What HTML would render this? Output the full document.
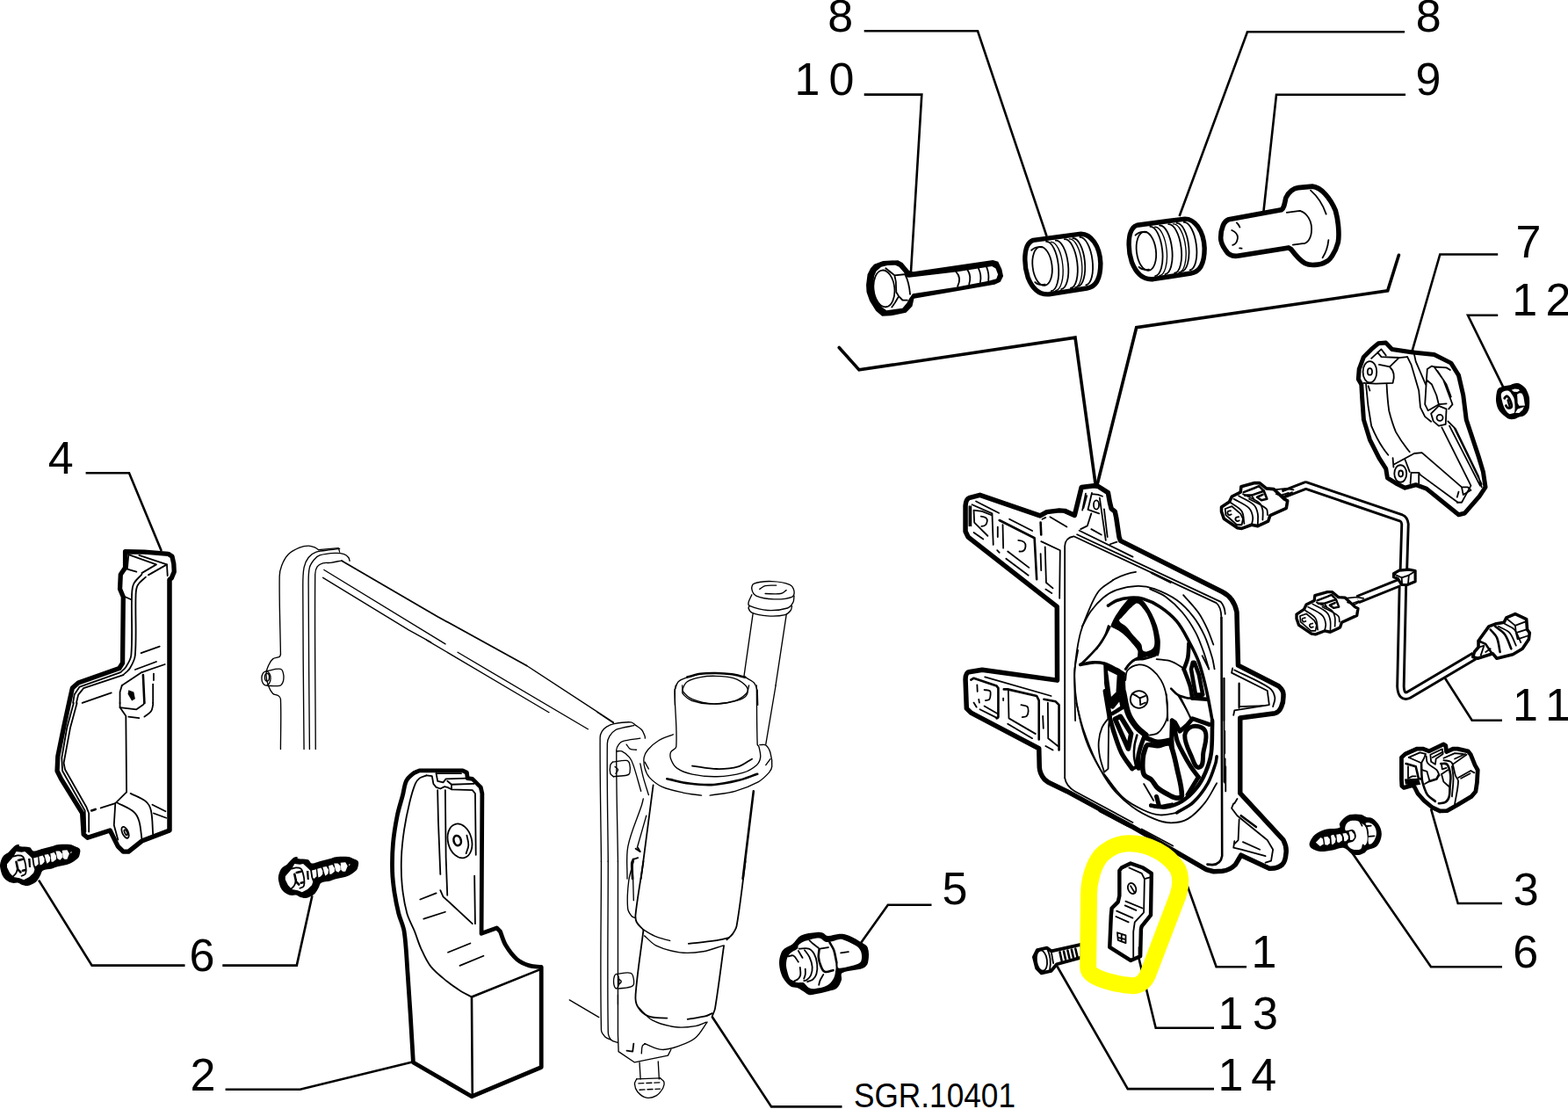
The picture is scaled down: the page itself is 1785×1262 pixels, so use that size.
<!DOCTYPE html>
<html><head><meta charset="utf-8"><title>Parts diagram</title>
<style>
html,body{margin:0;padding:0;background:#fff;}
body{width:1785px;height:1262px;overflow:hidden;}
svg{display:block;}
.k{fill:none;stroke:#000;stroke-linecap:round;stroke-linejoin:round;}
.w{fill:#fff;}
.lbl{font-family:"Liberation Sans",sans-serif;fill:#000;stroke:none;}
</style></head><body>
<svg width="1785" height="1262" viewBox="0 0 1785 1262">
<rect x="0" y="0" width="1785" height="1262" fill="#fff"/>
<g transform="translate(980,280) scale(0.100837)">
<path fill="#000" d="M60,440 L75,320 L110,250 L150,205 L250,168 L420,160 L470,188 L545,278 L590,290 L1490,158 L1550,175 L1590,260 L1607,340 L1575,405 L1510,435 L600,592 L580,680 L510,752 L340,787 L240,792 L170,732 L100,620 L65,520 Z"/>
<path fill="#fff" d="M140,430 L150,340 L175,282 L230,235 L300,218 L390,215 L432,236 L482,292 L520,352 L545,355 L1090,290 L1480,228 L1522,252 L1548,320 L1530,370 L1440,395 L1090,460 L585,538 L548,590 L520,642 L470,702 L290,726 L240,690 L190,640 L152,545 Z"/>
<g class="k" stroke-width="17.851">
<ellipse cx="262" cy="480" rx="118" ry="208" transform="rotate(-6 262 480)"/>
<path d="M280,250 L380,330 L490,320 M380,330 L395,400 L400,520 L430,570 L470,610 L525,612 M420,580 L385,640 L350,690 M500,322 Q545,410 556,545"/>
<path d="M1075,292 Q1140,360 1092,456 M1205,270 Q1250,340 1222,430 M1328,252 Q1365,330 1348,408 M1420,240 Q1450,310 1440,392"/>
</g>
</g>
<g transform="translate(1150,235) scale(0.134454)">
<defs><g id="slv">
<path class="w" stroke="#000" stroke-width="40.163" stroke-linejoin="round" d="M125,450 C125,360 150,300 195,285 L460,250 L600,232 C680,232 760,330 765,480 C765,600 730,680 650,692 L470,720 L330,742 C250,750 190,700 150,600 C130,540 125,500 125,450 Z"/>
<g class="k" stroke-width="13.388">
<ellipse cx="272" cy="505" rx="82" ry="165" transform="rotate(-7 272 505)"/>
<path d="M180,370 Q215,335 270,345 M210,640 Q240,670 295,660"/>
<path d="M305,297 A82,210.1 -5.9 0 1 348,715 M385,287 A82,207.8 -6.5 0 1 432,700 M460,277 A82,208.1 -7.2 0 1 512,690 M530,268 A82,205.1 -5.9 0 1 572,676 M590,260 A82,204.2 -7.3 0 1 642,665"/>
<path  stroke-width="10.041" d="M345,300 A82,207.0 -5.5 0 1 385,712 M500,275 A82,206.4 -6.7 0 1 548,685"/>
</g></g></defs>
<use href="#slv"/>
<use href="#slv" transform="translate(880,-127)"/>
</g>
<g transform="translate(1370,195) scale(0.100837)">
<path class="w" stroke="#000" stroke-width="55.535" stroke-linejoin="round" d="M195,750 C195,650 230,560 285,543 L880,435 C905,420 915,380 930,300 C960,230 1020,190 1070,185 L1230,170 C1330,180 1430,300 1490,440 C1525,560 1535,720 1520,800 C1490,920 1420,1010 1380,1022 C1320,1060 1200,1065 1150,1040 C1080,1000 1020,920 990,880 L960,862 L400,952 C330,965 280,940 250,890 C215,840 195,800 195,750 Z"/>
<g class="k" stroke-width="17.851">
<path d="M940,465 L1090,445 C1170,470 1225,560 1220,660 C1220,760 1170,815 1120,815 L1010,830"/>
<path d="M1210,215 Q1330,320 1385,482 M1412,775 Q1400,890 1345,975"/>
<path d="M375,580 Q400,600 410,630 M320,665 Q395,700 385,760 Q375,820 330,832 M408,866 L432,870"/>
</g>
</g>
<g transform="translate(1535,380) scale(0.174338)">
<path class="w" stroke="#000" stroke-width="28.680" stroke-linejoin="round" d="M195,62 L245,58 L285,100 L420,120 L560,135 L670,190 L720,270 L750,400 L770,560 L800,650 L850,800 L880,900 L895,1000 L855,1060 L760,1170 L720,1180 L510,1010 L440,985 L370,1005 L310,975 L255,940 L245,880 L200,810 L140,690 L100,560 L90,420 L85,330 L65,295 L70,230 L100,150 L150,100 Z"/>
<g class="k" stroke-width="10.325">
<ellipse cx="140" cy="248" rx="45" ry="70"/>
<ellipse cx="140" cy="246" rx="15" ry="22"/>
<path d="M150,160 L215,100 L245,140 M215,150 L330,155 L385,150 M200,200 L270,215 L330,155 M270,215 Q312,255 290,320 L180,325 M100,320 L180,325 M190,120 L215,150"/>
<path d="M115,330 Q125,470 150,600 Q200,720 260,790 M250,330 Q255,430 265,500 Q285,580 310,640 Q350,710 400,770 M130,340 L140,370"/>
<path d="M385,150 L410,200 L460,370 L470,480 L500,540 L540,572 M425,110 L440,180 L505,330"/>
<path d="M515,230 L545,210 L560,215 L640,220 L665,235 M515,230 L510,300 L500,460 L520,500 L590,460 L575,400 L545,330 L510,300 M560,215 L620,300 L665,420 L680,460 L655,490 M590,460 L640,455 M580,240 L640,330 L670,410"/>
<path d="M540,520 L590,470 L640,490 L635,590 L590,600 L555,570 Z"/>
<circle cx="597" cy="547" r="20"/>
<path d="M650,570 L700,620 L850,930 L870,1000 M660,600 L860,990 M610,610 L800,990 L740,1100 L710,1100 M690,610 L870,980"/>
<ellipse cx="340" cy="912" rx="40" ry="56"/>
<ellipse cx="342" cy="912" rx="14" ry="20"/>
<path d="M300,850 L430,780 L480,775 L740,1000 L780,1000 L800,1020 M410,905 L460,905 L470,920 L715,1100 M410,905 L405,975 M460,905 L460,975 M370,820 L400,900 M290,810 L295,870 M740,1000 L750,1050 L800,1020 M720,1030 L710,1065"/>
</g>
</g>
<g transform="translate(1680,420) scale(0.055463)">
<path fill="#000" d="M415.0,600.0 C416.9,559.7 421.2,519.3 430.0,480.0 C436.3,452.2 441.3,421.5 460.0,400.0 C477.1,380.3 506.0,375.2 530.0,365.0 C549.4,356.8 569.4,349.3 590.0,345.0 C626.2,337.5 664.1,339.0 700.0,330.0 C724.6,323.8 745.5,306.5 770.0,300.0 C796.0,293.1 823.2,288.2 850.0,290.0 C874.2,291.6 899.1,297.7 920.0,310.0 C956.8,331.6 992.7,357.2 1020.0,390.0 C1043.9,418.6 1056.2,455.4 1070.0,490.0 C1082.9,522.3 1096.3,555.4 1100.0,590.0 C1106.4,649.7 1105.5,710.3 1100.0,770.0 C1097.1,801.0 1088.6,832.0 1075.0,860.0 C1061.5,887.9 1042.4,913.6 1020.0,935.0 C1003.3,951.0 981.7,962.0 960.0,970.0 C931.1,980.6 899.1,980.0 870.0,990.0 C845.3,998.5 825.7,1020.3 800.0,1025.0 C760.7,1032.2 718.9,1034.2 680.0,1025.0 C653.0,1018.6 632.0,996.9 610.0,980.0 C581.9,958.4 554.2,935.9 530.0,910.0 C504.0,882.3 477.0,854.0 460.0,820.0 C439.7,779.4 429.1,734.4 420.0,690.0 C414.0,660.6 413.6,630.0 415.0,600.0 Z"/>
<path fill="#fff" d="M520.0,520.0 C524.1,494.3 546.1,470.4 570.0,460.0 C603.7,445.2 645.3,437.7 680.0,450.0 C709.0,460.2 723.3,494.2 740.0,520.0 C760.2,551.3 784.5,583.1 790.0,620.0 C803.2,709.0 812.9,801.8 795.0,890.0 C790.4,912.7 752.3,908.6 730.0,915.0 C717.1,918.7 702.5,924.9 690.0,920.0 C670.1,912.3 653.2,896.8 640.0,880.0 C616.0,849.4 595.5,815.6 580.0,780.0 C561.9,738.4 550.2,694.2 540.0,650.0 C530.1,607.3 513.2,563.3 520.0,520.0 Z"/>
<path fill="#fff" d="M850.0,520.0 L900.0,490.0 L950.0,500.0 L980.0,570.0 L1010.0,750.0 L890.0,755.0 L860.0,700.0 Z"/>
<path fill="#fff" d="M735.0,430.0 L800.0,405.0 L880.0,415.0 L900.0,440.0 L850.0,470.0 L780.0,465.0 Z"/>
<path fill="#fff" d="M810.0,895.0 L860.0,820.0 L990.0,775.0 L960.0,840.0 L890.0,900.0 Z"/>
<path fill="none" stroke="#000" stroke-width="50.484" stroke-linecap="round" stroke-linejoin="round" d="M590.0,600.0 C603.3,585.0 610.1,557.2 630.0,555.0 C650.2,552.8 668.1,573.5 680.0,590.0 C699.2,616.6 710.4,648.6 720.0,680.0 C728.9,709.1 740.0,740.0 735.0,770.0 C732.5,785.2 715.0,796.5 700.0,800.0 C683.5,803.9 664.4,799.0 650.0,790.0 C635.9,781.2 630.0,763.3 620.0,750.0"/>
<path fill="none" stroke="#000" stroke-width="43.272" stroke-linecap="round" d="M660,640 L700,780"/>
</g>
<g transform="translate(1060,520) scale(0.253614)">
<path class="w" stroke="#000" stroke-width="21.686" stroke-linejoin="round" d="M154,334 L154,219 Q156,190 170,184 L219,171 L489,264 L519,247 L575,240 L600,242 L644,262 L675,136 L731,129 L750,132 L794,160 L802,204 L809,232 L825,245 L831,273 L844,360 L850,376 L1307,605 Q1360,632 1372,696 L1378,935 L1560,1028 Q1584,1050 1581,1070 Q1582,1100 1572,1121 Q1562,1146 1543,1150 L1387,1171 L1387,1509 L1581,1719 Q1597,1750 1593,1778 Q1590,1815 1576,1829 Q1555,1848 1518,1846 L1391,1787 L1366,1829 Q1340,1855 1307,1858 L1268,1860 L1236,1852 L897,1656 L609,1500 L526,1460 L509,1447 Q487,1420 486,1392 L484,1308 L179,1148 L159,1128 L154,998 Q155,968 169,965 L229,955 L566,1002 L565,672 L166,359 Z"/>
</g>
<g transform="translate(1080,540) scale(0.126807)">
<g class="k" stroke-width="14.195">
<path d="M245,240 L450,345 M210,270 L390,350 L400,630 M185,285 L185,460 M200,285 L200,460"/>
<path d="M225,320 L230,430 L350,550 M225,320 L300,330 L385,365 M225,520 L310,580"/>
<path d="M290,375 Q350,380 345,420 Q340,465 295,465"/>
<path d="M440,470 L440,560 M485,450 L490,660 M545,400 L750,505"/>
<path d="M625,590 Q695,595 690,645 Q685,695 635,690"/>
<path d="M530,690 L720,835 M515,755 L715,905 M435,680 L455,700"/>
<path d="M830,600 L1000,680 L995,1110 M865,650 L875,970 L935,1020 M870,1030 L925,1065 M825,710 L830,860"/>
<path d="M910,380 L1060,470 M840,400 L870,385"/>
<path d="M1230,170 L1200,320 M1240,190 L1210,300 M1285,165 L1250,315 L1350,350 M1285,175 L1340,180 L1380,195 M1355,210 L1410,590 M1395,310 L1425,560"/>
<ellipse cx="1325" cy="272" rx="24" ry="40"/>
<path d="M1280,350 L1245,460 L1185,490 M1280,490 L1370,540 M1450,625 L1510,605"/>
</g>
<path class="k" stroke-width="14.195" d="M1476,946 Q1580,890 1680,875"/>
<g class="k" stroke-width="20.504">
<path d="M455,410 L770,570 L790,940 M825,430 L830,540"/>
</g>
</g>
<g transform="translate(1060,520) scale(0.253614)">
<g class="k" stroke-width="7.097">
<path d="M600,1440 L600,400 Q602,362 640,356 L1280,655 Q1302,672 1303,722"/>
<path d="M655,348 L1300,650 Q1318,670 1320,705 M665,330 L905,448"/>
<path d="M600,1440 Q606,1478 645,1500 L905,1640 M755,1590 L880,1655 M945,1670 L1085,1745"/>
<path d="M1318,1230 L1318,1330 M1322,1390 L1322,1500"/>
</g>
<g class="k" stroke-width="10.252">
<path d="M1303,722 L1306,1790 Q1300,1828 1262,1830 L1240,1828"/>
<path d="M990,520 L1075,562"/>
</g>
</g>
<g transform="translate(1200,660) scale(0.126807)">
<path class="k" stroke-width="14.195" d="M190.0,1262.0 C188.3,1174.7 185.9,1087.3 185.0,1000.0 C184.3,933.3 179.0,866.4 185.0,800.0 C194.1,699.3 207.3,598.5 230.0,500.0 C245.8,431.2 272.4,365.0 300.0,300.0 C329.2,231.4 354.7,159.2 400.0,100.0 C433.3,56.6 486.7,33.3 530.0,0.0" />
<path class="k" stroke-width="14.195" d="M250.0,420.0 C276.7,373.3 298.3,323.4 330.0,280.0 C362.0,236.2 398.2,194.6 440.0,160.0 C475.7,130.5 516.1,104.9 560.0,90.0 C621.0,69.3 685.6,56.9 750.0,55.0 C800.7,53.5 852.3,63.0 900.0,80.0 C970.2,105.1 1039.3,136.7 1100.0,180.0 C1157.5,221.1 1206.5,274.3 1250.0,330.0 C1290.5,381.8 1322.6,440.3 1350.0,500.0 C1379.5,564.2 1399.7,632.3 1420.0,700.0 C1429.8,732.6 1433.3,766.7 1440.0,800.0" />
<path class="k" stroke-width="14.195" d="M860.0,80.0 C906.7,103.3 957.7,119.4 1000.0,150.0 C1055.4,190.1 1105.9,237.7 1150.0,290.0 C1196.5,345.1 1235.6,406.6 1270.0,470.0 C1299.2,523.9 1319.1,582.4 1340.0,640.0 C1359.1,692.5 1373.3,746.7 1390.0,800.0" />
<path class="k" stroke-width="28.390" d="M485.0,230.0 C510.0,215.0 532.6,194.9 560.0,185.0 C598.5,171.2 639.2,162.5 680.0,160.0 C720.1,157.5 761.5,158.6 800.0,170.0 C852.9,185.7 904.1,209.4 950.0,240.0 C1005.1,276.7 1057.5,319.3 1100.0,370.0 C1145.2,423.9 1176.6,488.1 1210.0,550.0 C1243.3,611.6 1276.5,674.0 1300.0,740.0 C1330.1,824.6 1349.9,912.5 1370.0,1000.0 C1389.9,1086.6 1403.3,1174.7 1420.0,1262.0" />
<path class="k" stroke-width="14.195" d="M1160.0,135.0 C1206.7,190.0 1258.7,240.9 1300.0,300.0 C1332.4,346.5 1356.1,398.6 1380.0,450.0 C1399.6,492.1 1413.3,536.7 1430.0,580.0" />
<path class="k" stroke-width="14.195" d="M1330.0,680.0 L1390.0,800.0" />
<path class="k" stroke-width="20.504" d="M235.0,760.0 C256.7,740.0 279.5,721.2 300.0,700.0 C334.5,664.4 369.7,629.2 400.0,590.0 C426.6,555.6 448.0,517.5 470.0,480.0 C481.3,460.7 490.0,440.0 500.0,420.0" />
<path class="k" stroke-width="28.390" d="M235.0,760.0 C273.3,753.3 311.1,741.8 350.0,740.0 C383.5,738.4 417.8,740.8 450.0,750.0 C488.7,761.1 524.2,781.6 560.0,800.0 C582.6,811.6 603.3,826.7 625.0,840.0" />
<path class="k" stroke-width="14.195" d="M640.0,900.0 C646.7,870.0 640.0,833.3 660.0,810.0 C684.3,781.7 722.9,763.7 760.0,760.0 C794.6,756.5 831.5,770.0 860.0,790.0 C900.6,818.4 935.2,857.1 960.0,900.0 C986.3,945.7 1001.4,998.0 1010.0,1050.0 C1021.6,1119.8 1016.7,1191.3 1020.0,1262.0" />
<path class="k" stroke-width="20.504" d="M640.0,800.0 C660.0,776.7 676.9,750.2 700.0,730.0 C717.4,714.8 740.0,706.7 760.0,695.0" />
<path class="k" stroke-width="14.195" d="M920.0,710.0 C963.3,716.7 1008.4,716.1 1050.0,730.0 C1089.6,743.2 1123.3,770.0 1160.0,790.0" />
<circle class="k" stroke-width="14.195" cx="762" cy="1072" r="78"/>
<path class="k" stroke-width="14.195" d="M740.0,1040.0 L770.0,1060.0 L775.0,1120.0" />
<path class="k" stroke-width="14.195" d="M770.0,1060.0 L820.0,1040.0" />
<path class="k" stroke-width="14.195" d="M700.0,1020.0 L740.0,1040.0" />
<path class="k" stroke-width="14.195" d="M775.0,1120.0 L820.0,1100.0" />
<path class="k" stroke-width="36.276" d="M1210.0,570.0 C1206.7,613.3 1208.3,657.3 1200.0,700.0 C1193.2,734.7 1176.7,766.7 1165.0,800.0" />
<path class="k" stroke-width="36.276" d="M1165.0,800.0 C1183.3,850.0 1205.2,898.8 1220.0,950.0 C1230.3,985.8 1233.3,1023.3 1240.0,1060.0" />
<path class="k" stroke-width="36.276" d="M1240.0,1060.0 L1370.0,1070.0" />
<path class="k" stroke-width="36.276" d="M1245.0,740.0 L1230.0,800.0 L1270.0,1030.0 L1335.0,1030.0 L1300.0,850.0 L1260.0,740.0 Z" />
<path class="k" stroke-width="20.504" d="M1050.0,975.0 C1070.0,993.3 1086.4,1016.6 1110.0,1030.0 C1137.5,1045.6 1169.2,1052.9 1200.0,1060.0 C1213.0,1063.0 1226.7,1060.0 1240.0,1060.0" />
<path class="k" stroke-width="14.195" d="M1110.0,1030.0 C1133.3,1070.0 1157.4,1109.6 1180.0,1150.0 C1200.7,1186.9 1220.0,1224.7 1240.0,1262.0" />
<path class="k" stroke-width="14.195" d="M1525.0,880.0 L1525.0,1262.0" />
<path class="k" stroke-width="14.195" d="M1660.0,930.0 L1660.0,1150.0" />
</g>
<g transform="translate(1220,670) scale(0.095111)">
<path fill="#000" d="M690.0,115.0 C661.2,133.5 642.0,163.8 620.0,190.0 C598.6,215.5 578.9,242.5 560.0,270.0 C542.2,295.9 524.7,322.2 510.0,350.0 C494.6,379.0 478.6,408.3 470.0,440.0 C468.0,447.2 473.8,455.9 480.0,460.0 C504.8,476.5 535.2,483.5 560.0,500.0 C595.5,523.7 628.9,550.7 660.0,580.0 C685.8,604.3 707.7,632.5 730.0,660.0 C751.0,685.9 777.3,709.2 790.0,740.0 C801.5,767.9 775.1,813.0 800.0,830.0 C827.8,849.0 866.7,820.0 900.0,815.0 C933.3,810.0 966.5,803.6 1000.0,800.0 C1013.3,798.6 1035.3,812.5 1040.0,800.0 C1058.9,749.7 1059.0,693.7 1060.0,640.0 C1060.6,606.3 1051.6,573.1 1045.0,540.0 C1038.3,506.3 1031.5,472.4 1020.0,440.0 C1003.0,392.1 982.7,345.4 960.0,300.0 C942.6,265.2 922.0,232.0 900.0,200.0 C885.3,178.5 871.2,155.1 850.0,140.0 C823.3,120.9 792.4,105.1 760.0,100.0 C736.4,96.3 710.1,102.1 690.0,115.0 Z"/>
<path fill="#fff" d="M770.0,175.0 C743.1,189.8 722.2,213.7 700.0,235.0 C682.1,252.1 666.7,271.7 650.0,290.0 C633.3,308.3 616.0,326.0 600.0,345.0 C589.3,357.7 562.3,370.2 570.0,385.0 C588.1,419.6 632.8,432.0 660.0,460.0 C689.7,490.6 712.4,527.5 740.0,560.0 C769.0,594.2 805.6,622.4 830.0,660.0 C846.4,685.2 835.2,728.1 860.0,745.0 C882.2,760.1 915.4,745.8 940.0,735.0 C959.4,726.5 977.6,709.9 985.0,690.0 C995.4,661.8 993.1,629.9 990.0,600.0 C984.7,549.3 974.7,498.8 960.0,450.0 C944.5,398.4 924.1,348.2 900.0,300.0 C887.2,274.4 868.4,252.0 850.0,230.0 C834.9,211.9 819.4,193.4 800.0,180.0 C791.6,174.3 778.9,170.1 770.0,175.0 Z"/>
<path class="k" stroke-width="27.336" d="M1000.0,800.0 C953.3,813.3 907.5,830.1 860.0,840.0 C827.2,846.8 791.2,837.9 760.0,850.0 C728.9,862.1 703.6,886.4 680.0,910.0 C666.3,923.7 660.0,943.3 650.0,960.0" />
<path class="k" stroke-width="18.925" d="M440.0,440.0 C420.0,493.3 405.5,549.1 380.0,600.0 C358.5,643.0 326.7,680.0 300.0,720.0" />
</g>
<g transform="translate(1240,740) scale(0.079239)">
<path fill="#000" d="M200.0,195.0 L330.0,240.0 L460.0,320.0 L515.0,322.0 L520.0,500.0 L530.0,700.0 L500.0,660.0 L440.0,650.0 L330.0,800.0 L290.0,860.0 L250.0,700.0 L215.0,480.0 L205.0,210.0 Z"/>
<path fill="#fff" d="M265.0,290.0 L400.0,355.0 L385.0,600.0 L315.0,670.0 Z"/>
</g>
<g transform="translate(1200,800) scale(0.126807)">
<path class="k" stroke-width="14.195" d="M200.0,0.0 C220.0,76.7 234.5,155.0 260.0,230.0 C294.6,332.0 332.6,433.3 380.0,530.0 C419.5,610.6 463.9,689.9 520.0,760.0 C571.6,824.4 633.6,881.0 700.0,930.0 C761.3,975.1 829.7,1010.9 900.0,1040.0 C947.4,1059.7 998.7,1075.0 1050.0,1075.0 C1101.3,1075.0 1155.7,1065.9 1200.0,1040.0 C1259.1,1005.5 1306.9,953.1 1350.0,900.0 C1394.3,845.4 1423.3,780.0 1460.0,720.0" />
<path class="k" stroke-width="14.195" d="M450.0,640.0 C506.7,710.0 553.5,789.2 620.0,850.0 C671.9,897.4 736.4,930.1 800.0,960.0 C847.2,982.2 898.0,1000.7 950.0,1005.0 C1000.3,1009.2 1050.0,991.7 1100.0,985.0" />
<path class="k" stroke-width="28.390" d="M1100.0,985.0 C1150.0,953.3 1207.0,930.7 1250.0,890.0 C1301.8,841.0 1344.6,781.9 1380.0,720.0 C1411.9,664.1 1429.6,601.1 1450.0,540.0 C1456.4,520.8 1456.7,500.0 1460.0,480.0" />
<path class="k" stroke-width="36.276" d="M870.0,920.0 C913.3,925.0 956.8,941.2 1000.0,935.0 C1052.7,927.5 1104.8,908.2 1150.0,880.0 C1200.0,848.7 1242.9,805.9 1280.0,760.0 C1313.8,718.2 1339.2,669.6 1360.0,620.0 C1382.8,565.5 1401.6,508.5 1410.0,450.0 C1421.8,367.4 1417.1,283.4 1420.0,200.0 C1420.5,186.0 1420.0,172.0 1420.0,158.0" />
<path class="k" stroke-width="14.195" d="M500.0,120.0 C476.7,153.3 446.2,182.7 430.0,220.0 C412.3,260.8 403.4,305.7 400.0,350.0 C396.7,393.3 402.1,437.3 410.0,480.0 C418.8,527.7 436.7,573.3 450.0,620.0" />
<path class="k" stroke-width="14.195" d="M450.0,620.0 L485.0,590.0 L490.0,200.0 L500.0,120.0" />
<path class="k" stroke-width="14.195" d="M1535.0,500.0 L1535.0,720.0" />
</g>
<g transform="translate(1240,790) scale(0.110951)">
<path fill="none" stroke="#000" stroke-width="49.572" stroke-linecap="round" stroke-linejoin="round" d="M165.0,-30.0 L190.0,120.0 L210.0,240.0"/>
<path fill="none" stroke="#000" stroke-width="40.559" stroke-linecap="round" stroke-linejoin="round" d="M235.0,200.0 L340.0,135.0"/>
<path fill="none" stroke="#000" stroke-width="40.559" stroke-linecap="round" stroke-linejoin="round" d="M240.0,130.0 L320.0,30.0 L340.0,135.0"/>
<path fill="none" stroke="#000" stroke-width="61.288" stroke-linecap="round" stroke-linejoin="round" d="M350.0,-20.0 C366.7,53.3 373.8,129.5 400.0,200.0 C417.7,247.7 447.8,290.6 480.0,330.0 C508.4,364.7 546.7,390.0 580.0,420.0"/>
<path fill="none" stroke="#000" stroke-width="49.572" stroke-linecap="round" stroke-linejoin="round" d="M575.0,445.0 C616.7,459.3 656.1,483.7 700.0,488.0 C743.5,492.3 786.7,476.0 830.0,470.0"/>
<path class="k" stroke-width="16.223" d="M790.0,0.0 C793.3,76.7 806.9,153.6 800.0,230.0 C796.7,265.8 778.2,299.1 760.0,330.0 C744.4,356.5 725.9,383.4 700.0,400.0 C676.9,414.9 646.7,413.3 620.0,420.0" />
<path fill="#fff" stroke="#000" stroke-width="49.572" stroke-linecap="round" stroke-linejoin="round" d="M265.0,255.0 L320.0,228.0 L430.0,405.0 L400.0,560.0 Z"/>
<path fill="none" stroke="#000" stroke-width="46.868" stroke-linecap="round" stroke-linejoin="round" d="M210.0,240.0 C223.3,286.7 234.7,334.0 250.0,380.0 C274.7,454.0 295.5,530.0 330.0,600.0 C359.3,659.3 403.3,710.0 440.0,765.0"/>
<path fill="none" stroke="#000" stroke-width="36.052" stroke-linecap="round" stroke-linejoin="round" d="M440.0,765.0 L480.0,750.0"/>
<path fill="none" stroke="#000" stroke-width="23.434" stroke-linecap="round" stroke-linejoin="round" d="M490.0,420.0 C481.7,453.3 469.6,486.0 465.0,520.0 C459.6,559.7 457.3,600.1 460.0,640.0 C462.4,675.6 473.3,710.0 480.0,745.0"/>
<path fill="none" stroke="#000" stroke-width="45.065" stroke-linecap="round" stroke-linejoin="round" d="M570.0,420.0 C553.3,466.7 533.9,512.4 520.0,560.0 C510.5,592.6 502.5,626.1 500.0,660.0 C497.5,693.3 503.3,726.7 505.0,760.0"/>
<path fill="#fff" stroke="#000" stroke-width="50.473" stroke-linecap="round" stroke-linejoin="round" d="M600.0,520.0 C632.0,510.1 666.6,532.3 700.0,530.0 C740.8,527.2 779.9,497.0 820.0,505.0 C840.5,509.1 843.7,540.1 850.0,560.0 C870.6,625.6 886.0,692.7 900.0,760.0 C919.3,852.8 950.0,945.2 950.0,1040.0 C950.0,1058.6 918.6,1065.0 900.0,1065.0 C875.2,1065.0 851.9,1051.5 830.0,1040.0 C784.9,1016.3 738.9,992.8 700.0,960.0 C674.5,938.5 663.6,903.6 640.0,880.0 C616.4,856.4 572.6,850.9 560.0,820.0 C539.8,770.5 547.9,713.4 550.0,660.0 C551.2,629.3 559.7,598.9 570.0,570.0 C576.5,551.7 581.4,525.7 600.0,520.0 Z"/>
<path fill="none" stroke="#000" stroke-width="45.065" stroke-linecap="round" stroke-linejoin="round" d="M850.0,270.0 L845.0,440.0 L850.0,560.0"/>
<path fill="none" stroke="#000" stroke-width="45.065" stroke-linecap="round" stroke-linejoin="round" d="M870.0,310.0 C880.0,363.3 883.9,418.2 900.0,470.0 C914.1,515.6 938.0,557.6 960.0,600.0 C984.7,647.7 1011.0,694.7 1040.0,740.0 C1064.4,778.2 1093.3,813.3 1120.0,850.0"/>
<path fill="none" stroke="#000" stroke-width="45.065" stroke-linecap="round" stroke-linejoin="round" d="M850.0,270.0 L880.0,290.0 L930.0,380.0 L1000.0,320.0 L1060.0,250.0 L1230.0,310.0"/>
<path fill="#fff" stroke="#000" stroke-width="45.065" stroke-linecap="round" stroke-linejoin="round" d="M1060.0,330.0 C1105.6,321.3 1172.5,337.0 1190.0,380.0 C1217.8,448.2 1181.8,527.3 1170.0,600.0 C1161.7,651.1 1179.1,733.6 1130.0,750.0 C1087.0,764.3 1068.8,681.3 1050.0,640.0 C1018.2,569.9 977.5,496.9 980.0,420.0 C981.3,379.9 1020.6,337.5 1060.0,330.0 Z"/>
<path fill="none" stroke="#000" stroke-width="45.065" stroke-linecap="round" stroke-linejoin="round" d="M1120.0,850.0 L1010.0,1030.0"/>
<path fill="none" stroke="#000" stroke-width="36.052" stroke-linecap="round" stroke-linejoin="round" d="M630.0,1140.0 C653.3,1145.0 676.2,1156.1 700.0,1155.0 C750.6,1152.7 800.0,1138.3 850.0,1130.0"/>
<path fill="none" stroke="#000" stroke-width="45.065" stroke-linecap="round" stroke-linejoin="round" d="M690.0,1050.0 L715.0,1140.0"/>
<path class="k" stroke-width="16.223" d="M560.0,920.0 L660.0,1090.0" />
<path class="k" stroke-width="16.223" d="M930.0,20.0 C953.3,66.7 977.5,112.9 1000.0,160.0 C1014.2,189.6 1026.7,220.0 1040.0,250.0" />
</g>
<g transform="translate(1080,740) scale(0.126807)">
<path class="k" stroke-width="20.504" d="M200.0,265.0 L225.0,250.0 L430.0,320.0 L445.0,340.0 L445.0,600.0 L430.0,610.0" />
<path class="k" stroke-width="14.195" d="M325.0,240.0 L920.0,410.0" />
<path class="k" stroke-width="14.195" d="M280.0,530.0 L440.0,610.0" />
<path class="k" stroke-width="14.195" d="M320.0,500.0 L440.0,570.0" />
<path class="k" stroke-width="14.195" d="M255.0,310.0 L258.0,370.0" />
<path class="k" stroke-width="14.195" d="M270.0,440.0 L275.0,470.0" />
<path class="k" stroke-width="14.195" d="M225.0,470.0 L250.0,510.0" />
<path class="k" stroke-width="14.195" d="M320.0,355.0 C336.7,358.3 356.8,354.2 370.0,365.0 C379.1,372.5 375.8,388.2 375.0,400.0 C374.1,413.7 374.2,429.8 365.0,440.0 C356.9,449.0 341.7,446.7 330.0,450.0" />
<path class="k" stroke-width="20.504" d="M495.0,350.0 L530.0,350.0 L790.0,410.0 L810.0,450.0 L810.0,800.0" />
<path class="k" stroke-width="14.195" d="M535.0,360.0 L540.0,610.0 L780.0,750.0" />
<path class="k" stroke-width="14.195" d="M530.0,660.0 L750.0,790.0" />
<path class="k" stroke-width="14.195" d="M650.0,490.0 C668.3,495.0 690.5,492.7 705.0,505.0 C715.5,513.9 715.8,531.3 715.0,545.0 C714.1,560.8 711.2,578.8 700.0,590.0 C690.3,599.7 673.3,596.7 660.0,600.0" />
<path class="k" stroke-width="14.195" d="M490.0,430.0 L490.0,450.0" />
<path class="k" stroke-width="20.504" d="M855.0,440.0 L960.0,460.0 L990.0,490.0 L990.0,895.0" />
<path class="k" stroke-width="14.195" d="M890.0,470.0 L893.0,790.0 L980.0,860.0" />
<path class="k" stroke-width="14.195" d="M870.0,860.0 L935.0,895.0" />
<path class="k" stroke-width="14.195" d="M845.0,590.0 L850.0,700.0" />
<path class="k" stroke-width="14.195" d="M1160.0,0.0 C1150.0,66.7 1131.4,132.6 1130.0,200.0 C1128.1,293.6 1134.6,387.7 1150.0,480.0 C1168.1,588.5 1193.6,696.3 1230.0,800.0 C1260.6,887.2 1303.4,970.2 1350.0,1050.0 C1393.7,1124.7 1450.0,1191.3 1500.0,1262.0" />
</g>
<g transform="translate(1370,740) scale(0.213904)">
<path class="k" stroke-width="8.415" d="M155.0,95.0 L150.0,120.0 L340.0,215.0 L350.0,290.0 L165.0,320.0 L160.0,345.0" />
<path class="k" stroke-width="8.415" d="M165.0,105.0 C226.7,136.7 292.5,161.2 350.0,200.0 C366.1,210.9 376.2,230.9 380.0,250.0 C383.3,266.7 373.3,283.3 370.0,300.0" />
<path class="k" stroke-width="8.415" d="M190.0,175.0 L190.0,300.0 L320.0,295.0" />
<path class="k" stroke-width="8.415" d="M160.0,815.0 L150.0,840.0 L180.0,880.0 L340.0,1010.0 L370.0,1060.0 L360.0,1120.0 L330.0,1130.0" />
<path class="k" stroke-width="8.415" d="M180.0,790.0 L165.0,815.0" />
<path class="k" stroke-width="12.155" d="M200.0,880.0 L280.0,940.0" />
<path class="k" stroke-width="8.415" d="M165.0,1015.0 L160.0,1050.0 L200.0,1060.0 L330.0,1095.0" />
<path class="k" stroke-width="8.415" d="M210.0,1020.0 L300.0,1060.0" />
<path class="k" stroke-width="8.415" d="M190.0,900.0 L185.0,1010.0 L165.0,1030.0" />
<path class="k" stroke-width="8.415" d="M110.0,150.0 L110.0,700.0" />
</g>
<g transform="translate(1165,940) scale(0.158491)">
<path class="w" stroke="#000" stroke-width="27.762" stroke-linejoin="round" d="M770,268 L705,300 L690,320 L690,500 L680,545 L635,590 L630,640 L620,870 L770,965 L840,935 L845,740 L850,720 L915,640 L920,340 L860,300 Z"/>
<g class="k" stroke-width="11.357">
<path d="M760,300 L850,340 L870,380 L905,370 M870,380 L865,620 L800,690 L790,760 L790,940"/>
<path d="M735,540 L855,590 M730,570 L810,605 M670,610 L785,660 M665,650 L755,690 M830,935 L830,870"/>
<ellipse cx="780" cy="448" rx="28" ry="40" transform="rotate(-20 780 448)"/>
<path d="M770,430 L800,480"/>
<path d="M675,765 L735,785 L735,840 L680,820 Z M705,775 L705,830 M680,800 L735,815"/>
</g>
</g>
<g transform="translate(1165,940) scale(0.158491)">
<path class="w" stroke="#000" stroke-width="23.976" stroke-linejoin="round" d="M75,940 L100,890 L170,875 L200,898 L420,850 L420,942 L240,992 L200,1040 L130,1056 L95,1020 Z"/>
<g class="k" stroke-width="11.357">
<ellipse cx="132" cy="966" rx="38" ry="74" transform="rotate(-8 132 966)"/>
<path d="M170,880 Q205,950 190,1030 M200,900 L215,985"/>
</g>
<g class="k" stroke-width="16.405"><path d="M262,905 L275,965 M290,900 L303,958 M318,893 L331,950 M346,887 L359,943 M374,880 L387,936"/></g>
</g>
<g transform="translate(870,1040) scale(0.079233)">
<path fill="#000" d="M215.0,700.0 C215.0,655.9 224.5,611.3 240.0,570.0 C250.1,543.2 267.7,518.1 290.0,500.0 C322.4,473.7 367.3,465.9 400.0,440.0 C448.0,402.0 475.2,337.4 530.0,310.0 C596.9,276.5 675.8,274.6 750.0,265.0 C779.8,261.2 811.3,261.0 840.0,270.0 C866.5,278.3 882.4,312.5 910.0,315.0 C960.5,319.6 1009.5,294.0 1060.0,290.0 C1093.3,287.3 1127.3,288.5 1160.0,295.0 C1194.6,301.9 1228.1,314.8 1260.0,330.0 C1301.8,349.9 1341.5,374.3 1380.0,400.0 C1416.6,424.4 1469.9,438.7 1485.0,480.0 C1510.3,548.9 1505.5,628.3 1490.0,700.0 C1482.5,734.6 1452.8,766.7 1420.0,780.0 C1324.8,818.6 1210.0,800.6 1120.0,850.0 C1090.6,866.1 1121.4,918.5 1110.0,950.0 C1094.2,993.5 1075.4,1040.2 1040.0,1070.0 C1007.7,1097.2 960.8,1099.2 920.0,1110.0 C854.0,1127.5 787.3,1143.0 720.0,1155.0 C693.7,1159.7 665.7,1167.2 640.0,1160.0 C609.7,1151.5 587.1,1125.9 560.0,1110.0 C530.4,1092.6 502.0,1072.4 470.0,1060.0 C441.4,1048.9 406.2,1056.0 380.0,1040.0 C343.8,1017.9 315.2,984.2 290.0,950.0 C267.9,920.0 250.7,885.7 240.0,850.0 C225.4,801.4 215.0,750.7 215.0,700.0 Z"/>
<path fill="#fff" d="M315.0,720.0 C316.8,682.4 323.6,643.8 340.0,610.0 C352.9,583.5 376.8,563.2 400.0,545.0 C424.1,526.1 459.0,522.2 480.0,500.0 C491.7,487.7 479.4,463.3 490.0,450.0 C507.9,427.6 534.4,412.8 560.0,400.0 C585.0,387.5 613.1,382.5 640.0,375.0 C673.1,365.8 706.0,354.6 740.0,350.0 C763.1,346.9 788.0,344.1 810.0,352.0 C836.6,361.5 853.5,390.2 880.0,400.0 C898.8,406.9 920.3,403.4 940.0,400.0 C987.4,391.7 1032.6,373.0 1080.0,365.0 C1096.5,362.2 1114.2,362.7 1130.0,368.0 C1174.9,383.0 1217.8,403.5 1260.0,425.0 C1291.3,441.0 1325.1,455.1 1350.0,480.0 C1371.6,501.6 1387.9,530.2 1395.0,560.0 C1403.5,595.7 1405.2,634.8 1395.0,670.0 C1389.1,690.4 1370.0,707.8 1350.0,715.0 C1266.0,745.3 1177.8,763.4 1090.0,780.0 C1079.6,782.0 1065.6,778.9 1060.0,770.0 C1047.1,749.4 1063.0,692.3 1040.0,700.0 C1014.5,708.5 1034.8,753.6 1030.0,780.0 C1021.5,827.0 1022.0,877.7 1000.0,920.0 C977.1,964.0 943.4,1006.0 900.0,1030.0 C845.9,1060.0 781.4,1067.9 720.0,1075.0 C693.0,1078.1 663.9,1072.8 640.0,1060.0 C615.1,1046.6 600.6,1019.3 580.0,1000.0 C573.9,994.3 568.3,986.1 560.0,985.0 C530.3,980.9 499.7,989.6 470.0,985.0 C455.3,982.7 443.1,972.2 430.0,965.0 C409.7,953.8 383.1,949.1 370.0,930.0 C347.8,897.9 339.9,857.7 330.0,820.0 C321.5,787.4 313.4,753.7 315.0,720.0 Z"/>
<path class="k" stroke-width="32.815" d="M940.0,410.0 C960.0,446.7 986.4,480.5 1000.0,520.0 C1020.0,578.1 1026.7,640.0 1040.0,700.0" />
<path class="k" stroke-width="22.718" d="M650.0,380.0 C663.3,393.3 675.6,407.8 690.0,420.0 C719.0,444.5 750.0,466.7 780.0,490.0" />
<path class="k" stroke-width="22.718" d="M800.0,500.0 L920.0,480.0" />
<path class="k" stroke-width="32.815" d="M790.0,510.0 C786.7,546.7 776.8,583.3 780.0,620.0 C783.6,661.1 793.8,702.1 810.0,740.0 C824.2,773.1 836.4,816.9 870.0,830.0 C907.8,844.7 950.0,816.7 990.0,810.0" />
<path class="k" stroke-width="22.718" d="M850.0,870.0 C833.3,900.0 813.6,928.5 800.0,960.0 C791.8,978.9 790.0,1000.0 785.0,1020.0" />
<path class="k" stroke-width="22.718" d="M500.0,500.0 C546.7,500.0 596.1,484.1 640.0,500.0 C675.4,512.9 701.9,546.9 720.0,580.0 C743.2,622.6 754.8,671.7 760.0,720.0 C765.0,766.5 762.3,814.9 750.0,860.0 C741.7,890.3 723.6,919.2 700.0,940.0 C678.2,959.3 646.7,963.3 620.0,975.0" />
<path class="k" stroke-width="22.718" d="M580.0,520.0 C603.3,553.3 633.0,583.0 650.0,620.0 C670.2,664.1 686.3,711.6 690.0,760.0 C693.1,800.4 685.7,842.6 670.0,880.0 C658.1,908.3 634.0,930.8 610.0,950.0 C599.3,958.6 583.3,956.7 570.0,960.0" />
<path class="k" stroke-width="22.718" d="M490.0,530.0 L550.0,630.0" />
<path class="k" stroke-width="22.718" d="M340.0,610.0 C366.7,606.7 396.3,587.4 420.0,600.0 C453.5,617.9 466.7,660.0 490.0,690.0" />
<path class="k" stroke-width="22.718" d="M515.0,770.0 C516.7,806.7 527.4,844.0 520.0,880.0 C515.2,903.5 497.5,923.5 480.0,940.0 C466.5,952.8 446.7,956.7 430.0,965.0" />
<path class="k" stroke-width="22.718" d="M590.0,790.0 C590.0,816.7 593.8,843.6 590.0,870.0 C587.0,890.9 576.7,910.0 570.0,930.0" />
<path class="k" stroke-width="22.718" d="M1100.0,560.0 L1210.0,545.0" />
</g>
<g>
<path d="M1460.7,562.3 L1486.5,552.4 L1595.3,589.5 Q1598.8,590.8 1599.5,596.6 L1597.8,651.4 L1596.9,667.3 L1594.4,781.1 Q1595.1,794.8 1603.8,790.8 L1678.5,746.5" fill="none" stroke="#000" stroke-width="10.400" stroke-linejoin="round" stroke-linecap="butt"/>
<path d="M1593.8,662.8 L1545.6,682.2" fill="none" stroke="#000" stroke-width="10.400" stroke-linejoin="round" stroke-linecap="butt"/>
<path d="M1460.7,562.3 L1486.5,552.4 L1595.3,589.5 Q1598.8,590.8 1599.5,596.6 L1597.8,651.4 L1596.9,667.3 L1594.4,781.1 Q1595.1,794.8 1603.8,790.8 L1678.5,746.5" fill="none" stroke="#fff" stroke-width="4.600" stroke-linejoin="round" stroke-linecap="butt"/>
<path d="M1593.8,662.8 L1545.6,682.2" fill="none" stroke="#fff" stroke-width="4.600" stroke-linejoin="round" stroke-linecap="butt"/>
</g>
<g transform="translate(1380,530) scale(0.140056)">
<defs><g id="connA">
<path class="w" stroke="#000" stroke-width="25.704" stroke-linejoin="round" d="M75.0,335.0 L140.0,292.0 L160.0,250.0 L230.0,215.0 L235.0,170.0 L345.0,140.0 L385.0,140.0 L440.0,185.0 L500.0,190.0 L585.0,270.0 L612.0,285.0 L602.0,345.0 L470.0,405.0 L455.0,450.0 L370.0,490.0 L320.0,480.0 L240.0,510.0 L205.0,505.0 L95.0,430.0 L75.0,372.0 Z"/>
<path class="k" stroke-width="12.852" d="M150.0,300.0 C180.0,323.3 219.4,338.1 240.0,370.0 C258.5,398.5 253.3,436.7 260.0,470.0" />
<path class="k" stroke-width="12.852" d="M175.0,270.0 C216.7,295.0 265.1,311.2 300.0,345.0 C319.3,363.7 326.1,393.4 330.0,420.0 C333.0,440.1 323.3,460.0 320.0,480.0" />
<path class="k" stroke-width="12.852" d="M215.0,245.0 C256.7,270.0 304.5,286.8 340.0,320.0 C358.5,337.3 365.3,365.0 370.0,390.0 C375.5,419.5 370.0,450.0 370.0,480.0" />
<path class="k" stroke-width="12.852" d="M250.0,230.0 C293.3,253.3 341.8,269.0 380.0,300.0 C397.4,314.1 405.3,338.1 410.0,360.0 C415.6,386.1 410.0,413.3 410.0,440.0" />
<path class="k" stroke-width="12.852" d="M300.0,270.0 C346.7,296.7 399.4,314.8 440.0,350.0 C452.8,361.1 446.7,383.3 450.0,400.0" />
<path class="k" stroke-width="12.852" d="M105.0,350.0 L160.0,330.0 L230.0,390.0 L250.0,430.0 L240.0,480.0 L200.0,480.0 L110.0,400.0 Z" />
<path class="k" stroke-width="12.852" d="M150.0,365.0 C141.7,368.3 128.5,366.8 125.0,375.0 C121.5,383.2 127.5,395.0 135.0,400.0 C140.7,403.8 148.3,396.7 155.0,395.0" />
<path class="k" stroke-width="12.852" d="M215.0,415.0 C206.7,418.3 193.5,416.8 190.0,425.0 C186.5,433.2 192.5,445.0 200.0,450.0 C205.7,453.8 213.3,446.7 220.0,445.0" />
<path class="k" stroke-width="18.564" d="M255.0,215.0 L345.0,180.0 L380.0,165.0 L420.0,205.0 L320.0,240.0 L265.0,240.0" />
<path class="k" stroke-width="12.852" d="M320.0,240.0 L340.0,275.0" />
<path class="k" stroke-width="18.564" d="M420.0,205.0 L445.0,270.0 L400.0,280.0 L365.0,255.0 L410.0,235.0" />
<path class="k" stroke-width="12.852" d="M500.0,195.0 L600.0,185.0 L660.0,195.0" />
<path class="k" stroke-width="12.852" d="M520.0,230.0 L580.0,250.0 L650.0,215.0" />
<path class="k" stroke-width="12.852" d="M560.0,240.0 L620.0,220.0" />
</g></defs>
<use href="#connA"/>
<use href="#connA" transform="translate(610.5,871.1) translate(75,350) scale(0.93) translate(-75,-350)"/>
</g>
<g transform="translate(1460,640) scale(0.182073)">
<path class="w" stroke="#000" stroke-width="17.575" stroke-linejoin="round" d="M695.0,70.0 L730.0,50.0 L790.0,45.0 L830.0,52.0 L830.0,120.0 L780.0,140.0 L745.0,140.0 L720.0,100.0 L695.0,92.0 Z"/>
<path class="k" stroke-width="9.886" d="M700.0,75.0 L745.0,95.0 L790.0,80.0 L830.0,55.0" />
<path class="k" stroke-width="9.886" d="M745.0,95.0 L748.0,140.0" />
<path class="k" stroke-width="9.886" d="M790.0,80.0 L785.0,138.0" />
<path class="w" stroke="#000" stroke-width="19.772" stroke-linejoin="round" d="M1225.0,490.0 L1290.0,400.0 L1330.0,385.0 L1385.0,375.0 L1400.0,345.0 L1455.0,322.0 L1525.0,355.0 L1530.0,420.0 L1545.0,440.0 L1540.0,480.0 L1500.0,540.0 L1440.0,575.0 L1340.0,600.0 L1315.0,570.0 L1220.0,600.0 L1190.0,590.0 L1200.0,560.0 L1225.0,530.0 Z"/>
<path class="k" stroke-width="14.280" d="M1300.0,420.0 C1313.3,436.7 1331.6,450.4 1340.0,470.0 C1352.1,498.2 1353.3,530.0 1360.0,560.0" />
<path class="k" stroke-width="14.280" d="M1330.0,400.0 C1350.0,416.7 1374.9,428.8 1390.0,450.0 C1409.1,476.7 1416.7,510.0 1430.0,540.0" />
<path class="k" stroke-width="9.886" d="M1350.0,400.0 C1373.3,413.3 1401.8,420.2 1420.0,440.0 C1440.1,462.0 1446.7,493.3 1460.0,520.0" />
<path class="k" stroke-width="9.886" d="M1390.0,385.0 C1410.0,396.7 1434.8,402.5 1450.0,420.0 C1469.6,442.5 1476.7,473.3 1490.0,500.0" />
<path class="k" stroke-width="9.886" d="M1400.0,350.0 L1455.0,395.0 L1520.0,370.0" />
<path class="k" stroke-width="9.886" d="M1455.0,395.0 L1460.0,440.0 L1525.0,420.0" />
<path class="k" stroke-width="9.886" d="M1460.0,440.0 L1470.0,480.0 L1530.0,460.0" />
<path class="k" stroke-width="14.280" d="M1225.0,490.0 L1270.0,510.0 L1310.0,570.0" />
<path class="k" stroke-width="9.886" d="M1230.0,530.0 L1260.0,520.0 L1240.0,580.0" />
<path class="k" stroke-width="9.886" d="M1270.0,560.0 L1300.0,540.0" />
</g>
<g transform="translate(1580,835) scale(0.079258)">
<path class="w" stroke="#000" stroke-width="60.562" stroke-linejoin="round" d="M195.0,340.0 L250.0,290.0 L420.0,215.0 L500.0,215.0 L590.0,250.0 L800.0,150.0 L830.0,170.0 L840.0,260.0 L940.0,215.0 L1000.0,215.0 L1150.0,250.0 L1190.0,300.0 L1250.0,450.0 L1290.0,520.0 L1280.0,700.0 L1260.0,830.0 L1200.0,900.0 L1000.0,1020.0 L850.0,1105.0 L750.0,1110.0 L640.0,1060.0 L520.0,960.0 L430.0,860.0 L380.0,760.0 L350.0,740.0 L230.0,775.0 L200.0,750.0 L195.0,650.0 Z"/>
<path class="k" stroke-width="22.711" d="M300.0,340.0 L460.0,270.0 L540.0,290.0" />
<path class="k" stroke-width="22.711" d="M300.0,340.0 L480.0,420.0 L520.0,350.0 L540.0,290.0" />
<path class="k" stroke-width="32.804" d="M260.0,430.0 L400.0,470.0 L440.0,640.0 L470.0,650.0" />
<path class="k" stroke-width="22.711" d="M290.0,470.0 L290.0,640.0 L350.0,610.0 L400.0,610.0" />
<path fill="#000" d="M240,650 L440,640 L470,730 L380,745 L250,725 Z"/>
<path class="k" stroke-width="32.804" d="M480.0,420.0 C483.3,500.0 480.9,580.4 490.0,660.0 C494.3,697.8 507.0,734.3 520.0,770.0 C533.8,807.9 544.8,848.5 570.0,880.0 C599.6,917.0 643.3,940.0 680.0,970.0" />
<path class="k" stroke-width="22.711" d="M550.0,320.0 C556.7,353.3 549.6,392.8 570.0,420.0 C602.8,463.7 662.5,480.3 700.0,520.0 C720.5,541.7 726.7,573.3 740.0,600.0" />
<path class="k" stroke-width="22.711" d="M610.0,300.0 L780.0,220.0 L790.0,290.0 L690.0,360.0 L680.0,440.0 L620.0,400.0 Z" />
<path class="k" stroke-width="22.711" d="M640.0,340.0 L790.0,260.0" />
<path class="k" stroke-width="22.711" d="M490.0,520.0 L560.0,540.0 L600.0,680.0 L530.0,720.0" />
<path class="k" stroke-width="32.804" d="M600.0,680.0 L700.0,650.0 L730.0,590.0" />
<path class="k" stroke-width="32.804" d="M760.0,430.0 C790.0,433.3 830.8,416.7 850.0,440.0 C885.5,483.1 893.1,544.6 900.0,600.0 C906.6,653.0 893.6,706.7 890.0,760.0 C886.9,806.7 892.3,854.9 880.0,900.0 C871.7,930.3 856.2,962.6 830.0,980.0 C801.7,998.9 763.3,993.3 730.0,1000.0" />
<path class="k" stroke-width="22.711" d="M770.0,440.0 L780.0,510.0 L840.0,490.0" />
<path class="k" stroke-width="22.711" d="M770.0,580.0 L800.0,690.0 L880.0,760.0" />
<path class="k" stroke-width="22.711" d="M770.0,580.0 L860.0,520.0" />
<path class="k" stroke-width="22.711" d="M800.0,380.0 C833.3,386.7 869.1,385.8 900.0,400.0 C915.1,407.0 924.5,424.3 930.0,440.0 C948.2,491.9 952.6,547.8 970.0,600.0 C979.4,628.3 1010.7,650.2 1010.0,680.0 C1007.3,791.2 976.7,900.0 960.0,1010.0" />
<path class="k" stroke-width="22.711" d="M930.0,440.0 L1130.0,300.0" />
<path class="k" stroke-width="22.711" d="M800.0,350.0 L960.0,280.0 L1080.0,290.0" />
<path class="k" stroke-width="22.711" d="M960.0,360.0 L1110.0,290.0" />
<path class="k" stroke-width="22.711" d="M1010.0,630.0 L1190.0,530.0 L1240.0,560.0" />
<path class="k" stroke-width="22.711" d="M1050.0,640.0 L1180.0,570.0" />
<path class="k" stroke-width="22.711" d="M920.0,470.0 C926.7,526.7 940.0,582.9 940.0,640.0 C940.0,726.9 926.7,813.3 920.0,900.0" />
</g>
<g transform="translate(1480,915) scale(0.061626)">
<path fill="#000" d="M180.0,700.0 C203.7,647.8 235.7,596.4 280.0,560.0 C331.8,517.4 395.4,488.0 460.0,470.0 C547.4,445.7 646.0,469.2 730.0,435.0 C753.2,425.6 718.4,382.1 730.0,360.0 C753.7,315.0 791.6,278.3 830.0,245.0 C855.9,222.5 886.1,200.6 920.0,195.0 C989.0,183.5 1060.9,183.9 1130.0,195.0 C1166.8,200.9 1194.6,233.5 1230.0,245.0 C1262.1,255.4 1300.4,243.8 1330.0,260.0 C1373.5,283.8 1409.0,321.3 1440.0,360.0 C1463.3,389.1 1479.0,424.4 1490.0,460.0 C1500.9,495.4 1508.1,533.1 1505.0,570.0 C1501.3,614.7 1489.3,659.5 1470.0,700.0 C1453.6,734.3 1431.8,769.2 1400.0,790.0 C1352.3,821.1 1290.5,823.6 1240.0,850.0 C1219.1,860.9 1210.5,888.4 1190.0,900.0 C1156.0,919.1 1118.9,936.6 1080.0,940.0 C1039.6,943.5 996.5,937.6 960.0,920.0 C904.1,893.1 870.9,821.8 810.0,810.0 C740.1,796.4 670.5,839.3 600.0,850.0 C527.0,861.0 453.8,877.1 380.0,875.0 C335.1,873.7 290.5,859.3 250.0,840.0 C222.2,826.8 193.7,807.5 180.0,780.0 C168.1,756.1 169.0,724.3 180.0,700.0 Z"/>
<path fill="#fff" d="M830.0,450.0 C832.4,418.5 840.5,384.9 860.0,360.0 C879.4,335.3 909.6,318.0 940.0,310.0 C975.5,300.7 1014.1,302.4 1050.0,310.0 C1079.2,316.1 1105.4,333.1 1130.0,350.0 C1159.2,370.1 1193.6,388.6 1210.0,420.0 C1232.1,462.3 1234.5,512.6 1240.0,560.0 C1244.6,599.7 1247.8,640.8 1240.0,680.0 C1234.2,709.2 1223.9,742.1 1200.0,760.0 C1188.1,768.9 1171.2,730.2 1160.0,740.0 C1135.3,761.6 1149.9,816.5 1120.0,830.0 C1071.4,851.9 1009.9,848.7 960.0,830.0 C922.4,815.9 874.3,779.7 880.0,740.0 C885.3,703.1 950.9,713.3 980.0,690.0 C1002.4,672.1 1019.7,646.8 1030.0,620.0 C1037.2,601.3 1034.5,579.5 1030.0,560.0 C1024.3,535.3 1016.9,509.0 1000.0,490.0 C988.1,476.6 968.0,470.0 950.0,470.0 C916.0,470.0 883.5,495.6 850.0,490.0 C835.3,487.5 828.9,464.9 830.0,450.0 Z"/>
<path fill="#fff" d="M1215.0,350.0 C1239.9,330.4 1280.8,342.6 1310.0,355.0 C1339.3,367.4 1364.9,392.0 1380.0,420.0 C1399.6,456.3 1410.0,498.8 1410.0,540.0 C1410.0,578.0 1396.3,615.7 1380.0,650.0 C1365.7,680.1 1347.4,711.0 1320.0,730.0 C1305.0,740.5 1269.6,747.7 1265.0,730.0 C1247.3,662.3 1270.5,589.8 1265.0,520.0 C1262.1,482.5 1250.6,446.1 1240.0,410.0 C1233.9,389.2 1198.0,363.4 1215.0,350.0 Z"/>
<path fill="#fff" d="M290.0,710.0 L380.0,615.0 L420.0,640.0 L435.0,740.0 L370.0,780.0 Z"/>
<path fill="#fff" d="M440.0,610.0 L510.0,600.0 L550.0,650.0 L550.0,720.0 L510.0,760.0 L460.0,750.0 Z"/>
<path fill="#fff" d="M570.0,580.0 L620.0,565.0 L660.0,640.0 L650.0,700.0 L610.0,745.0 L585.0,745.0 Z"/>
<path fill="#fff" d="M670.0,565.0 L740.0,550.0 L775.0,600.0 L780.0,670.0 L720.0,715.0 L685.0,700.0 Z"/>
<path fill="#fff" d="M785.0,545.0 L850.0,535.0 L890.0,590.0 L890.0,640.0 L850.0,685.0 L815.0,685.0 L810.0,620.0 Z"/>
<path fill="#fff" d="M900.0,510.0 L950.0,500.0 L1000.0,560.0 L1005.0,620.0 L965.0,665.0 L925.0,665.0 L920.0,590.0 Z"/>
<path class="k" stroke-width="29.209" d="M1100,310 L1145,400 M1265,600 L1370,590 M1220,410 L1310,400"/>
</g>
<g transform="translate(0,950) scale(0.061626)">
<defs><g id="scr6">
<path fill="#000" d="M0.0,560.0 C1.8,529.3 8.9,498.6 20.0,470.0 C32.4,438.0 46.6,405.1 70.0,380.0 C94.6,353.6 132.4,343.3 160.0,320.0 C186.1,297.9 205.8,269.2 230.0,245.0 C249.2,225.8 266.1,202.9 290.0,190.0 C307.8,180.3 330.5,174.4 350.0,180.0 C360.1,182.9 349.8,207.4 360.0,210.0 C421.8,225.4 489.8,209.2 550.0,230.0 C581.2,240.8 587.5,294.6 620.0,300.0 C667.4,307.9 713.5,277.3 760.0,265.0 C833.5,245.6 906.4,224.0 980.0,205.0 C1016.4,195.6 1052.5,183.0 1090.0,180.0 C1156.5,174.6 1223.9,171.5 1290.0,180.0 C1328.7,185.0 1364.5,203.7 1400.0,220.0 C1426.5,232.2 1460.4,239.7 1475.0,265.0 C1489.2,289.5 1480.9,322.3 1475.0,350.0 C1469.0,378.5 1460.9,409.7 1440.0,430.0 C1396.9,471.9 1345.4,506.7 1290.0,530.0 C1217.0,560.7 1136.1,568.1 1060.0,590.0 C1026.1,599.8 994.2,616.1 960.0,625.0 C904.0,639.5 840.7,632.2 790.0,660.0 C763.9,674.3 764.0,713.7 750.0,740.0 C737.4,763.7 725.6,788.1 710.0,810.0 C692.1,835.0 675.8,863.3 650.0,880.0 C607.4,907.7 560.1,932.0 510.0,940.0 C473.2,945.9 435.6,930.9 400.0,920.0 C375.1,912.4 355.7,889.5 330.0,885.0 C297.1,879.2 262.6,897.0 230.0,890.0 C190.6,881.6 152.7,863.6 120.0,840.0 C91.3,819.3 67.1,791.0 50.0,760.0 C29.7,723.1 20.2,680.9 10.0,640.0 C3.5,613.9 -1.6,586.8 0.0,560.0 Z"/>
<path fill="#fff" d="M130.0,540.0 L200.0,460.0 L250.0,400.0 L300.0,310.0 L400.0,320.0 L460.0,310.0 L540.0,380.0 L590.0,430.0 L610.0,560.0 L640.0,640.0 L620.0,700.0 L540.0,780.0 L440.0,830.0 L360.0,800.0 L250.0,780.0 L180.0,700.0 L130.0,600.0 Z"/>
<path fill="#fff" d="M620.0,430.0 L700.0,410.0 L710.0,540.0 L660.0,585.0 L640.0,560.0 Z"/>
<path fill="#fff" d="M720.0,400.0 L790.0,380.0 L820.0,440.0 L820.0,500.0 L780.0,545.0 L740.0,560.0 Z"/>
<path fill="#fff" d="M820.0,370.0 L890.0,355.0 L930.0,420.0 L920.0,490.0 L870.0,530.0 L850.0,480.0 Z"/>
<path fill="#fff" d="M930.0,345.0 L1000.0,325.0 L1040.0,390.0 L1040.0,450.0 L980.0,500.0 L950.0,500.0 Z"/>
<path fill="#fff" d="M1030.0,300.0 L1100.0,300.0 L1150.0,350.0 L1150.0,420.0 L1110.0,465.0 L1060.0,440.0 Z"/>
<path fill="#fff" d="M1150.0,290.0 L1240.0,280.0 L1280.0,350.0 L1240.0,450.0 L1190.0,450.0 L1160.0,420.0 Z"/>
<path fill="#fff" d="M1300.0,320.0 L1330.0,310.0 L1310.0,350.0 Z"/>
<path class="k" stroke-width="29.209" d="M250.0,400.0 C276.7,393.3 302.5,380.0 330.0,380.0 C360.7,380.0 397.4,379.2 420.0,400.0 C446.4,424.4 450.6,465.4 460.0,500.0 C470.7,539.1 478.2,579.5 480.0,620.0 C481.5,653.5 486.6,690.9 470.0,720.0 C456.7,743.3 423.3,746.7 400.0,760.0"/>
<path class="k" stroke-width="29.209" d="M240.0,770.0 C260.0,746.7 285.6,727.2 300.0,700.0 C316.3,669.2 320.0,633.3 330.0,600.0"/>
<path class="k" stroke-width="42.190" d="M300,500 L330,640 L380,690 M340,470 L420,450 M420,660 L470,650"/>
<path fill="#000" d="M520,440 L560,440 L568,600 L535,600 Z"/>
</g></defs>
<use href="#scr6"/>
<use href="#scr6" transform="translate(5140.7,227.2)"/>
</g>
<g transform="translate(50,610) scale(0.150512)">
<path class="w" stroke="#000" stroke-width="35.213" stroke-linejoin="round" d="M615.0,118.0 L760.0,120.0 L940.0,135.0 L970.0,155.0 L982.0,210.0 L985.0,270.0 L965.0,318.0 L950.0,330.0 L950.0,2226.0 L740.0,2306.0 L640.0,2386.0 L600.0,2386.0 L560.0,2346.0 L500.0,2226.0 L330.0,2281.0 L300.0,2256.0 L290.0,2096.0 L130.0,1836.0 L100.0,1776.0 L105.0,1666.0 L150.0,1446.0 L197.0,1230.0 L215.0,1150.0 L260.0,1110.0 L570.0,1000.0 L595.0,960.0 L600.0,460.0 L575.0,400.0 L580.0,290.0 L615.0,240.0 Z"/>
<path class="k" stroke-width="30.562" d="M950.0,330.0 L950.0,2226.0" />
<path class="k" stroke-width="11.959" d="M640.0,140.0 L850.0,215.0 L740.0,280.0" />
<path class="k" stroke-width="11.959" d="M640.0,140.0 L630.0,250.0 L700.0,270.0" />
<path class="k" stroke-width="11.959" d="M720.0,145.0 L930.0,215.0 L790.0,295.0" />
<path class="k" stroke-width="11.959" d="M930.0,215.0 L935.0,300.0" />
<path class="k" stroke-width="11.959" d="M740.0,290.0 C720.0,313.3 693.7,332.5 680.0,360.0 C667.9,384.3 666.0,412.9 665.0,440.0 C659.3,593.2 672.5,747.2 660.0,900.0 C657.3,932.7 637.2,962.0 620.0,990.0 C610.1,1006.1 593.3,1016.7 580.0,1030.0" />
<path class="k" stroke-width="11.959" d="M580.0,1030.0 L270.0,1140.0 L230.0,1200.0 L220.0,1262.0" />
<path class="k" stroke-width="11.959" d="M770.0,310.0 C750.0,330.0 724.1,345.5 710.0,370.0 C698.1,390.7 695.9,416.2 695.0,440.0 C689.2,593.2 702.3,747.2 690.0,900.0 C687.1,935.8 668.5,969.2 650.0,1000.0 C637.9,1020.2 616.7,1033.3 600.0,1050.0" />
<path class="k" stroke-width="11.959" d="M600.0,1050.0 L300.0,1150.0 L260.0,1200.0 L245.0,1262.0" />
<path class="k" stroke-width="11.959" d="M615.0,460.0 L660.0,480.0" />
<path class="k" stroke-width="11.959" d="M735.0,885.0 L875.0,835.0" />
<path class="k" stroke-width="11.959" d="M690.0,1010.0 L850.0,950.0" />
<path class="k" stroke-width="11.959" d="M740.0,1030.0 L915.0,970.0" />
<path class="k" stroke-width="11.959" d="M590.0,1130.0 L740.0,1030.0" />
<path class="k" stroke-width="17.274" d="M750.0,1050.0 L760.0,1262.0" />
<path class="k" stroke-width="11.959" d="M830.0,1040.0 L830.0,1090.0" />
<path class="k" stroke-width="11.959" d="M825.0,1120.0 L825.0,1262.0" />
<path class="k" stroke-width="11.959" d="M575.0,1262.0 L575.0,1180.0 L590.0,1130.0" />
<path class="k" stroke-width="11.959" d="M290.0,1262.0 L510.0,1185.0" />
<path fill="#000" d="M640,1165 L680,1180 L690,1230 L665,1245 L635,1195 Z"/>
<path class="k" stroke-width="11.959" d="M250.0,1262.0 L200.0,1446.0 L150.0,1716.0 L160.0,1766.0 L320.0,2046.0 L340.0,2096.0 L340.0,2236.0" />
<path class="k" stroke-width="11.959" d="M225.0,1262.0 L175.0,1446.0 L135.0,1676.0 L140.0,1776.0 L310.0,2076.0 L315.0,2236.0" />
<path class="k" stroke-width="11.959" d="M575.0,1262.0 L575.0,1296.0 L620.0,1361.0 L625.0,1936.0" />
<path class="k" stroke-width="11.959" d="M575.0,1296.0 L700.0,1311.0 L750.0,1276.0 L760.0,1262.0" />
<path class="k" stroke-width="11.959" d="M640.0,1366.0 L720.0,1376.0" />
<path class="k" stroke-width="11.959" d="M760.0,1366.0 C776.7,1352.7 797.5,1343.3 810.0,1326.0 C820.2,1311.9 821.0,1292.9 825.0,1276.0 C826.1,1271.5 825.0,1266.7 825.0,1262.0" />
<path class="k" stroke-width="11.959" d="M625.0,1936.0 L540.0,2021.0 L430.0,2056.0" />
<path class="k" stroke-width="17.274" d="M360.0,2076.0 L390.0,2066.0" />
<path class="k" stroke-width="11.959" d="M540.0,2021.0 L530.0,2186.0 L560.0,2296.0" />
<path class="k" stroke-width="11.959" d="M555.0,2016.0 C596.7,2039.3 643.6,2055.1 680.0,2086.0 C700.5,2103.4 712.3,2130.3 720.0,2156.0 C732.6,2198.0 733.3,2242.7 740.0,2286.0" />
<path class="k" stroke-width="11.959" d="M655.0,1946.0 C693.3,1966.0 736.9,1978.2 770.0,2006.0 C790.6,2023.3 804.2,2049.8 810.0,2076.0 C822.9,2134.8 820.0,2196.0 825.0,2256.0" />
<path class="k" stroke-width="11.959" d="M820.0,2031.0 L920.0,2081.0" />
<path class="k" stroke-width="11.959" d="M830.0,2096.0 L925.0,2131.0" />
<ellipse class="k" stroke-width="11.959" cx="615" cy="2241" rx="22" ry="46" transform="rotate(-25 615 2241)"/>
<ellipse class="k" stroke-width="11.959" cx="620" cy="2241" rx="9" ry="22" transform="rotate(-25 620 2241)"/>
</g>
<g transform="translate(430,865) scale(0.158479)">
<path class="w" stroke="#000" stroke-width="30.288" stroke-linejoin="round" d="M300.0,75.0 C283.3,83.3 264.6,88.5 250.0,100.0 C232.4,113.9 214.5,129.7 205.0,150.0 C190.5,181.1 188.6,216.7 180.0,250.0 C167.0,300.1 150.1,349.3 140.0,400.0 C126.8,466.1 115.9,532.8 110.0,600.0 C104.2,666.4 103.1,733.3 105.0,800.0 C106.4,850.2 112.5,900.3 120.0,950.0 C127.6,1000.4 137.6,1050.5 150.0,1100.0 C161.0,1144.0 183.2,1185.2 190.0,1230.0 C205.0,1329.4 207.5,1430.2 215.0,1530.5 C222.5,1630.4 228.7,1730.4 235.0,1830.5 C242.1,1943.8 248.3,2057.1 255.0,2170.4 L675.0,2415.4 L1175.0,2205.4 L1175.0,1485.5 C1146.7,1482.1 1117.2,1484.0 1090.0,1475.5 C1058.0,1465.4 1025.5,1452.2 1000.0,1430.5 C967.5,1402.7 942.0,1367.1 920.0,1330.5 C901.5,1299.7 893.3,1263.8 880.0,1230.5 L855,1205 L745,1245 L750,240 L740,195 L680,135 L645,130 L640,90 L610,75 Z"/>
<path class="k" stroke-width="11.358" d="M350.0,110.0 C333.3,116.7 314.4,119.2 300.0,130.0 C286.7,140.0 276.3,154.6 270.0,170.0 C252.7,211.9 240.7,255.9 230.0,300.0 C214.0,366.1 200.1,432.8 190.0,500.0 C180.1,566.3 172.5,633.0 170.0,700.0 C167.5,766.6 168.4,833.6 175.0,900.0 C181.7,967.3 192.2,1034.7 210.0,1100.0 C222.4,1145.4 247.6,1186.3 265.0,1230.0 C280.9,1269.8 292.1,1311.5 310.0,1350.5 C330.5,1395.2 349.5,1441.9 380.0,1480.5 C413.7,1523.0 458.0,1556.1 500.0,1590.5 C531.5,1616.2 565.6,1638.8 600.0,1660.5 C624.0,1675.5 650.0,1687.1 675.0,1700.5" />
<path class="k" stroke-width="11.358" d="M350.0,110.0 L390.0,115.0 L400.0,170.0 L420.0,195.0 L450.0,205.0 L480.0,190.0 L500.0,195.0 L530.0,210.0 L680.0,215.0 L700.0,240.0 L705.0,680.0" />
<path class="k" stroke-width="11.358" d="M695.0,830.0 L700.0,1175.0" />
<path class="k" stroke-width="11.358" d="M420.0,95.0 L600.0,95.0" />
<path class="k" stroke-width="11.358" d="M420.0,95.0 L430.0,150.0 L470.0,160.0 L490.0,135.0 L640.0,130.0" />
<path class="k" stroke-width="11.358" d="M500.0,150.0 L530.0,175.0 L690.0,170.0" />
<path class="k" stroke-width="11.358" d="M530.0,175.0 L530.0,210.0" />
<path class="k" stroke-width="11.358" d="M430.0,215.0 L435.0,440.0 L450.0,820.0" />
<path class="k" stroke-width="11.358" d="M485.0,215.0 L490.0,700.0 L500.0,970.0" />
<path class="k" stroke-width="11.358" d="M450.0,935.0 L470.0,980.0 L680.0,1175.0" />
<ellipse class="k" stroke-width="11.358" cx="590" cy="580" rx="85" ry="125" transform="rotate(-15 590 580)"/>
<ellipse class="k" stroke-width="16.406" cx="572" cy="578" rx="26" ry="36" transform="rotate(-15 572 578)"/>
<path class="k" stroke-width="11.358" d="M640.0,540.0 C644.0,563.3 652.9,586.3 652.0,610.0 C651.2,630.8 640.7,650.0 635.0,670.0" />
<path class="k" stroke-width="11.358" d="M305.0,1000.0 L420.0,955.0" />
<path class="k" stroke-width="11.358" d="M330.0,1140.0 L485.0,1090.0" />
<path class="k" stroke-width="16.406" d="M675.0,1700.5 L1160.0,1505.5" />
<path class="k" stroke-width="16.406" d="M675.0,1700.5 L680.0,2400.4" />
<path class="k" stroke-width="11.358" d="M505.0,1380.5 L665.0,1315.5" />
<path class="k" stroke-width="11.358" d="M590.0,1475.5 L760.0,1405.5" />
</g>
<g transform="translate(270,580) scale(0.253550)">
<path class="k" stroke-width="5.324" d="M195.0,1075.0 C195.0,1000.0 198.1,924.9 195.0,850.0 C194.7,844.0 189.9,838.5 185.0,835.0 C177.7,829.8 166.3,831.3 160.0,825.0 C150.5,815.5 144.5,802.7 140.0,790.0 C134.3,774.0 130.0,757.0 130.0,740.0 C130.0,726.3 134.6,712.6 140.0,700.0 C144.7,689.0 150.6,677.5 160.0,670.0 C168.2,663.4 180.8,665.2 190.0,660.0 C193.2,658.2 193.3,653.3 195.0,650.0" />
<path class="k" stroke-width="5.324" d="M195.0,650.0 C193.3,533.3 188.5,416.7 190.0,300.0 C190.2,283.0 193.7,265.8 200.0,250.0 C207.2,232.0 216.3,213.7 230.0,200.0 C243.7,186.3 262.1,177.6 280.0,170.0 C292.5,164.7 306.4,162.0 320.0,162.0 C330.3,162.0 340.4,166.2 350.0,170.0 C355.6,172.2 360.0,176.7 365.0,180.0" />
<path class="k" stroke-width="5.324" d="M130.0,725.0 C151.7,721.7 173.5,710.9 195.0,715.0 C204.2,716.8 206.5,730.7 208.0,740.0 C209.9,751.6 209.0,764.0 205.0,775.0 C202.6,781.7 196.9,788.5 190.0,790.0 C172.1,793.8 153.3,790.0 135.0,790.0" />
<ellipse class="k" stroke-width="5.324" cx="130" cy="757" rx="20" ry="32"/>
<ellipse class="k" stroke-width="5.324" cx="134" cy="752" rx="10" ry="17"/>
<path class="k" stroke-width="5.324" d="M300.0,1075.0 C298.3,833.3 295.0,591.7 295.0,350.0 C295.0,320.0 294.5,289.5 300.0,260.0 C303.0,243.9 309.9,227.9 320.0,215.0 C328.9,203.7 341.5,194.7 355.0,190.0 C375.7,182.8 398.3,183.1 420.0,180.0 C433.3,178.1 446.7,176.7 460.0,175.0" />
<path class="k" stroke-width="5.324" d="M365.0,180.0 L455.0,172.0 L460.0,190.0" />
<path class="k" stroke-width="5.324" d="M325.0,1075.0 C323.3,826.7 320.0,578.3 320.0,330.0 C320.0,306.6 319.6,282.8 325.0,260.0 C328.1,246.9 336.5,235.4 345.0,225.0 C351.8,216.7 359.8,208.2 370.0,205.0 C392.5,197.9 416.5,196.1 440.0,195.0 C453.4,194.4 467.3,195.8 480.0,200.0 C487.9,202.6 494.7,208.6 500.0,215.0 C503.4,219.0 503.3,225.0 505.0,230.0" />
<path class="k" stroke-width="5.324" d="M352.0,1075.0 C351.3,813.3 347.4,551.7 350.0,290.0 C350.1,277.9 353.0,264.9 360.0,255.0 C365.6,247.0 375.6,242.6 385.0,240.0 C396.2,236.8 408.4,239.6 420.0,238.0 C436.8,235.6 453.3,231.3 470.0,228.0" />
<path class="k" stroke-width="7.099" d="M470.0,230.0 L900.0,480.0 L1300.0,700.0" />
<path class="k" stroke-width="5.324" d="M1300.0,700.0 L1690.0,955.0" />
<path class="k" stroke-width="5.324" d="M390.0,270.0 L935.0,603.0" />
<path class="k" stroke-width="5.324" d="M990.0,640.0 L1575.0,985.0" />
<path class="k" stroke-width="5.324" d="M385.0,305.0 L770.0,540.0 L870.0,595.0" />
<path class="k" stroke-width="5.324" d="M850.0,585.0 L1400.0,910.0" />
</g>
<g transform="translate(680,780) scale(0.174338)">
<path class="k" stroke-width="7.744" d="M25.6,1150.0 C23.1,880.0 16.6,610.0 18.0,340.0 C18.1,326.1 22.8,311.9 30.0,300.0 C37.3,287.9 48.0,277.5 60.0,270.0 C75.2,260.5 92.4,253.3 110.0,250.0 C146.2,243.2 183.3,237.4 220.0,240.0 C232.0,240.9 240.2,253.0 250.0,260.0 C263.6,269.7 279.2,277.3 290.0,290.0 C299.7,301.3 304.5,316.2 310.0,330.0 C311.9,334.7 311.3,340.0 312.0,345.0" />
<path class="k" stroke-width="7.744" d="M70.5,1150.0 C68.7,893.3 62.0,636.7 65.0,380.0 C65.2,362.6 70.9,344.8 80.0,330.0 C89.8,313.9 104.2,300.3 120.0,290.0 C131.7,282.4 146.4,281.2 160.0,278.0 C186.5,271.8 213.3,267.3 240.0,262.0" />
<path class="k" stroke-width="7.744" d="M134.5,1150.0 C131.3,906.7 123.3,663.3 125.0,420.0 C125.1,407.3 132.5,395.3 140.0,385.0 C146.3,376.4 154.7,367.9 165.0,365.0 C202.4,354.3 241.7,351.7 280.0,345.0" />
<path class="k" stroke-width="7.744" d="M125.0,430.0 C136.7,430.0 149.4,425.0 160.0,430.0 C179.3,439.1 196.3,453.6 210.0,470.0 C221.9,484.3 229.0,502.4 235.0,520.0 C254.1,575.9 268.3,633.3 285.0,690.0" />
<path class="k" stroke-width="7.744" d="M190.0,385.0 C198.3,395.0 203.5,408.8 215.0,415.0 C226.8,421.4 241.7,418.3 255.0,420.0" />
<path class="k" stroke-width="7.744" d="M100.0,500.0 C130.0,496.7 159.9,487.3 190.0,490.0 C199.4,490.9 207.5,500.9 210.0,510.0 C215.3,529.3 215.9,550.4 212.0,570.0 C210.5,577.4 202.4,583.3 195.0,585.0 C165.6,591.9 135.0,591.7 105.0,595.0" />
<path class="k" stroke-width="7.744" d="M100.0,500.0 C95.0,506.7 86.6,511.8 85.0,520.0 C81.4,538.0 80.3,557.3 85.0,575.0 C87.4,584.1 98.3,588.3 105.0,595.0" />
<path class="k" stroke-width="7.744" d="M115.0,530.0 C121.7,536.7 134.0,540.6 135.0,550.0 C136.1,559.7 125.0,566.7 120.0,575.0" />
<path class="k" stroke-width="7.744" d="M280.0,510.0 C286.7,540.0 292.0,570.3 300.0,600.0 C310.4,638.7 323.3,676.7 335.0,715.0" />
<path class="k" stroke-width="7.744" d="M300.0,740.0 C296.7,753.3 294.2,766.9 290.0,780.0 C260.9,870.3 218.3,956.9 200.0,1050.0 C186.3,1119.4 196.7,1191.3 195.0,1262.0" />
<path class="k" stroke-width="7.744" d="M320.0,850.0 L260.0,1060.0" />
<path class="k" stroke-width="10.325" d="M250.0,1065.0 L280.0,1085.0 L265.0,1060.0" />
<path class="k" stroke-width="14.914" d="M235.0,1135.0 C231.7,1143.3 225.4,1151.0 225.0,1160.0 C223.7,1194.0 228.3,1228.0 230.0,1262.0" />
<path class="k" stroke-width="10.325" d="M235.0,1135.0 L265.0,1125.0" />
<path class="k" stroke-width="7.744" d="M0.0,175.0 L105.0,245.0" />
<path class="k" stroke-width="7.744" d="M555.0,0.0 C556.7,13.3 552.1,29.1 560.0,40.0 C575.2,61.1 595.8,80.3 620.0,90.0 C664.3,107.7 712.3,118.3 760.0,120.0 C807.1,121.7 855.2,114.6 900.0,100.0 C928.6,90.7 954.9,72.3 975.0,50.0 C986.6,37.1 985.0,16.7 990.0,0.0" />
<path class="k" stroke-width="7.744" d="M512.0,0.0 C509.7,13.3 504.9,26.5 505.0,40.0 C505.9,160.0 522.6,280.2 515.0,400.0 C514.0,416.5 486.6,419.9 480.0,435.0 C474.0,448.7 474.7,466.0 480.0,480.0 C488.6,502.5 500.4,526.0 520.0,540.0 C549.2,560.9 584.9,572.6 620.0,580.0 C672.4,591.1 726.5,596.6 780.0,595.0 C837.2,593.3 895.0,585.9 950.0,570.0 C983.0,560.5 1014.1,542.5 1040.0,520.0 C1054.1,507.8 1062.7,488.5 1065.0,470.0 C1067.9,446.6 1060.4,422.9 1055.0,400.0 C1053.6,394.2 1045.2,391.0 1045.0,385.0 C1040.2,256.7 1041.7,128.3 1040.0,0.0" />
<path class="k" stroke-width="10.325" d="M620.0,525.0 C673.3,531.7 726.3,544.1 780.0,545.0 C826.9,545.8 874.8,542.8 920.0,530.0 C953.0,520.7 980.0,496.7 1010.0,480.0" />
<path class="k" stroke-width="7.744" d="M495.0,320.0 C463.3,333.3 429.4,342.2 400.0,360.0 C373.7,375.9 350.1,396.7 330.0,420.0 C317.8,434.1 308.1,451.6 305.0,470.0 C301.2,493.1 303.9,517.4 310.0,540.0 C315.8,561.6 324.9,583.5 340.0,600.0 C362.5,624.6 389.7,646.2 420.0,660.0 C464.2,680.1 512.6,689.4 560.0,700.0 C599.5,708.8 640.0,712.0 680.0,718.0" />
<path class="k" stroke-width="7.744" d="M735.0,718.0 C790.0,708.7 846.3,705.0 900.0,690.0 C951.9,675.5 1002.7,655.8 1050.0,630.0 C1077.0,615.3 1099.4,592.8 1120.0,570.0 C1130.0,558.9 1138.9,544.9 1140.0,530.0 C1142.3,499.9 1138.3,469.0 1130.0,440.0 C1124.7,421.3 1115.6,401.6 1100.0,390.0 C1089.3,382.0 1073.3,388.7 1060.0,388.0" />
<path class="k" stroke-width="14.914" d="M455.0,610.0 C503.3,620.0 551.0,633.9 600.0,640.0 C653.0,646.6 706.7,651.3 760.0,648.0 C814.0,644.6 867.4,632.9 920.0,620.0 C962.7,609.5 1003.3,592.0 1045.0,578.0" />
<path class="k" stroke-width="7.744" d="M310.0,500.0 L335.0,545.0" />
<path class="k" stroke-width="7.744" d="M1100.0,520.0 L1130.0,480.0" />
<path class="k" stroke-width="7.744" d="M1165.0,0.0 L1100.0,385.0" />
<path class="k" stroke-width="10.325" d="M365.0,650.0 L285.0,1262.0" />
<path class="k" stroke-width="14.914" d="M1020.0,690.0 L950.0,1262.0" />
</g>
<g transform="translate(620,640) scale(0.253614)">
<path class="k" stroke-width="5.323" d="M930.0,120.0 C928.4,111.2 931.6,98.3 940.0,95.0 C965.0,85.3 993.1,84.2 1020.0,85.0 C1047.1,85.8 1075.3,88.9 1100.0,100.0 C1111.0,104.9 1117.9,118.2 1120.0,130.0 C1121.6,138.8 1118.4,151.7 1110.0,155.0 C1085.0,164.7 1056.9,165.8 1030.0,165.0 C1002.9,164.2 974.7,161.1 950.0,150.0 C939.0,145.1 932.1,131.8 930.0,120.0 Z" />
<path class="k" stroke-width="5.323" d="M965.0,120.0 C973.3,115.0 980.5,107.1 990.0,105.0 C1006.3,101.3 1023.3,103.7 1040.0,103.0" />
<path class="k" stroke-width="5.323" d="M990.0,140.0 C1013.3,140.0 1037.0,143.6 1060.0,140.0 C1069.6,138.5 1076.7,130.0 1085.0,125.0" />
<path class="k" stroke-width="5.323" d="M930.0,145.0 C925.0,156.7 917.5,167.6 915.0,180.0 C914.0,185.2 915.1,193.0 920.0,195.0 C945.4,205.5 972.6,213.4 1000.0,215.0 C1030.1,216.8 1061.1,213.8 1090.0,205.0 C1101.3,201.6 1109.4,190.3 1115.0,180.0 C1119.9,171.1 1118.3,160.0 1120.0,150.0" />
<path class="k" stroke-width="5.323" d="M920.0,195.0 C918.3,198.3 913.8,201.5 915.0,205.0 C917.6,212.9 922.3,221.8 930.0,225.0 C952.1,234.1 976.2,238.4 1000.0,240.0 C1026.7,241.8 1054.0,241.2 1080.0,235.0 C1090.4,232.5 1098.6,223.5 1105.0,215.0 C1109.1,209.5 1108.3,201.7 1110.0,195.0" />
<path class="k" stroke-width="5.323" d="M935.0,230.0 L895.0,510.0" />
<path class="k" stroke-width="5.323" d="M1085.0,235.0 L1037.0,552.0" />
<path class="k" stroke-width="10.252" d="M640.0,515.0 C660.0,510.0 679.6,502.9 700.0,500.0 C722.5,496.8 745.3,496.7 768.0,497.0 C792.1,497.3 816.2,498.7 840.0,502.0 C860.3,504.8 880.0,510.7 900.0,515.0" />
<path class="k" stroke-width="5.323" d="M585.0,570.0 C590.0,558.3 591.0,544.0 600.0,535.0 C610.5,524.5 626.7,521.7 640.0,515.0" />
<path class="k" stroke-width="5.323" d="M900.0,515.0 C913.3,523.3 929.4,528.4 940.0,540.0 C948.6,549.4 950.0,563.3 955.0,575.0" />
<path class="k" stroke-width="5.323" d="M618.0,575.0 C621.7,560.2 627.7,544.0 640.0,535.0 C657.0,522.6 679.3,519.0 700.0,515.0 C722.3,510.6 745.3,509.2 768.0,510.0 C795.5,510.9 823.6,512.0 850.0,520.0 C868.6,525.6 886.0,536.5 900.0,550.0 C907.7,557.5 913.8,569.4 912.0,580.0 C910.0,592.2 900.9,604.1 890.0,610.0 C868.7,621.6 843.9,626.0 820.0,630.0 C793.6,634.4 766.7,636.7 740.0,635.0 C712.9,633.3 685.6,628.9 660.0,620.0 C646.5,615.3 634.8,605.5 625.0,595.0 C620.2,589.8 616.3,581.9 618.0,575.0 Z" />
<path class="k" stroke-width="5.323" d="M585.0,570.0 L585.0,640.0" />
<path class="k" stroke-width="5.323" d="M955.0,575.0 L957.0,640.0" />
</g>
<g transform="translate(680,980) scale(0.223364)">
<path class="k" stroke-width="8.059" d="M755.0,0.0 C740.0,110.0 729.2,220.7 710.0,330.0 C707.4,344.7 698.7,357.9 690.0,370.0 C681.8,381.5 670.0,390.0 660.0,400.0" />
<path class="k" stroke-width="8.059" d="M235.0,0.0 C221.7,90.0 205.2,179.6 195.0,270.0 C193.5,283.4 194.0,298.0 200.0,310.0 C207.9,325.8 223.3,336.7 235.0,350.0" />
<path class="k" stroke-width="6.044" d="M185.0,0.0 C176.7,33.3 164.3,65.9 160.0,100.0 C154.2,146.3 151.1,193.5 155.0,240.0 C156.2,254.9 165.7,268.4 175.0,280.0 C179.7,285.8 188.3,286.7 195.0,290.0" />
<path class="k" stroke-width="6.044" d="M180.0,20.0 L185.0,200.0" />
<path class="k" stroke-width="6.044" d="M235.0,350.0 C256.7,361.7 277.2,375.7 300.0,385.0 C322.5,394.2 346.7,398.3 370.0,405.0" />
<path class="k" stroke-width="8.059" d="M465.0,420.0 C510.0,415.0 555.2,411.6 600.0,405.0 C623.6,401.5 646.7,395.0 670.0,390.0" />
<path class="k" stroke-width="6.044" d="M240.0,380.0 C260.0,396.7 276.5,418.9 300.0,430.0 C337.7,447.8 378.7,459.8 420.0,465.0 C459.7,470.0 500.5,466.3 540.0,460.0 C574.4,454.5 606.7,440.0 640.0,430.0" />
<path class="k" stroke-width="8.059" d="M235.0,350.0 C221.7,460.0 203.5,569.5 195.0,680.0 C193.4,700.2 194.7,722.5 205.0,740.0 C217.6,761.3 237.0,780.8 260.0,790.0 C289.6,801.8 323.3,796.7 355.0,800.0" />
<path class="k" stroke-width="6.044" d="M205.0,740.0 C230.0,763.3 249.9,793.8 280.0,810.0 C316.7,829.8 358.7,839.4 400.0,845.0 C433.1,849.5 467.1,845.3 500.0,840.0 C519.3,836.9 536.7,826.7 555.0,820.0" />
<path class="k" stroke-width="8.059" d="M460.0,805.0 C490.0,800.0 520.4,797.1 550.0,790.0 C562.3,787.0 573.3,780.0 585.0,775.0" />
<path class="k" stroke-width="8.059" d="M645.0,430.0 C630.0,536.7 617.7,643.7 600.0,750.0 C597.7,764.0 590.0,776.7 585.0,790.0" />
<path class="k" stroke-width="6.044" d="M560.0,820.0 C540.0,846.7 525.3,878.3 500.0,900.0 C477.4,919.4 448.1,930.1 420.0,940.0 C391.0,950.2 360.7,961.7 330.0,960.0 C298.4,958.2 270.0,940.0 240.0,930.0" />
<path class="k" stroke-width="6.044" d="M20.0,0.0 C20.0,286.7 13.6,573.4 20.0,860.0 C20.3,873.4 30.5,885.5 40.0,895.0 C47.9,902.9 60.0,905.0 70.0,910.0" />
<path class="k" stroke-width="6.044" d="M55.0,0.0 C55.0,290.0 50.2,580.0 55.0,870.0 C55.2,884.2 60.4,899.5 70.0,910.0 C78.5,919.4 93.3,920.0 105.0,925.0" />
<path class="k" stroke-width="6.044" d="M105.0,0.0 L105.0,880.0 L108.0,970.0 L190.0,1025.0 L360.0,990.0 L375.0,960.0" />
<path class="k" stroke-width="8.059" d="M185.0,930.0 L180.0,970.0 L150.0,965.0" />
<path class="k" stroke-width="6.044" d="M225.0,980.0 C226.7,966.7 225.0,952.5 230.0,940.0 C232.2,934.4 240.0,933.3 245.0,930.0" />
<path class="k" stroke-width="6.044" d="M100.0,575.0 C123.3,573.3 147.6,563.4 170.0,570.0 C180.7,573.2 183.3,588.9 185.0,600.0 C186.8,611.6 190.0,628.8 180.0,635.0 C158.4,648.5 130.0,645.0 105.0,650.0" />
<ellipse class="k" stroke-width="6.044" cx="97" cy="612" rx="14" ry="37"/>
<path class="k" stroke-width="6.044" d="M108.0,600.0 C112.7,604.0 121.6,605.9 122.0,612.0 C122.5,618.6 114.0,622.7 110.0,628.0" />
<path class="k" stroke-width="6.044" d="M105.0,680.0 L105.0,730.0" />
<path class="k" stroke-width="6.044" d="M215.0,1025.0 L220.0,1110.0" />
<path class="k" stroke-width="6.044" d="M310.0,1020.0 L315.0,1110.0" />
<path class="k" stroke-width="6.044" d="M200.0,1110.0 C196.7,1118.3 189.3,1126.1 190.0,1135.0 C191.1,1149.2 195.7,1164.2 205.0,1175.0 C216.7,1188.7 232.4,1201.3 250.0,1205.0 C266.6,1208.5 285.3,1203.6 300.0,1195.0 C315.3,1186.0 326.2,1170.4 335.0,1155.0 C340.0,1146.2 342.9,1134.7 340.0,1125.0 C337.3,1116.0 326.7,1111.7 320.0,1105.0" />
<path class="k" stroke-width="6.044" d="M200.0,1110.0 L320.0,1105.0" />
<path class="k" stroke-width="6.044" stroke-dasharray="26.86 13.43" d="M210,1132 L330,1127 M215,1165 L320,1160"/>
<path class="k" stroke-width="6.044" d="M-142.0,707.0 L8.0,795.0" />
</g>
<g>
<g class="k" stroke-width="2.600" style="stroke-linecap:butt;stroke-linejoin:miter">
<polyline points="983.7,35.3 1113,35.3 1191.6,269"/>
<polyline points="983.7,107.6 1049.3,107.6 1037,309"/>
<polyline points="1599,36.3 1420,36.3 1342.6,246"/>
<polyline points="1600,107.8 1453,107.8 1438.4,241"/>
<polyline points="1705.2,289.5 1639.3,289.5 1607.6,399.3"/>
<polyline points="1705.2,358.7 1671,358.7 1711.3,440.6"/>
<polyline points="1710,819.7 1675.7,819.7 1645,771.8"/>
<polyline points="1710,1028 1659.7,1028 1629,920.4"/>
<polyline points="1710,1100.2 1629,1100.2 1536.9,967"/>
<polyline points="1419,1100.2 1384.6,1100.2 1338.5,971"/>
<polyline points="1382,1169.7 1315.7,1169.7 1296.5,1090.6"/>
<polyline points="1382,1239.1 1283.8,1239.1 1203.4,1099.5"/>
<polyline points="1060.5,1029.8 1010.8,1029.8 980.2,1072.7"/>
<polyline points="958.5,1259.4 878.1,1259.4 810.5,1156.8"/>
<polyline points="97.6,538.3 147,538.3 183.8,627"/>
<polyline points="210.5,1098.6 104.6,1098.6 44.1,1001.6"/>
<polyline points="253.3,1098.6 337.8,1098.6 355.4,1019.2"/>
<polyline points="256.6,1239.8 341.6,1239.8 468.5,1208.7"/>
</g>
<g class="k" stroke-width="3.600" style="stroke-linejoin:miter">
<polyline points="955.2,395.5 978,420.9 1224,384.1 1247.2,551.7"/>
<polyline points="1592.4,290.3 1579.7,330.9 1293.7,372.7 1249,551.7"/>
</g>
</g>
<g transform="translate(1165,940) scale(0.158491)">
<path fill="none" stroke="#ffff00" stroke-width="119.880" stroke-linejoin="round" stroke-linecap="round" d="M760,125 C900,125 1040,200 1110,310 C1140,380 1130,440 1110,500 L900,1050 C880,1110 840,1150 780,1146 C700,1142 560,1110 500,1070 C470,1050 462,1030 465,1000 L470,500 C470,400 500,280 560,210 C610,160 680,125 760,125 Z"/>
</g>
<g>
<text class="lbl" x="942.32" y="35.80" font-size="52">8</text>
<text class="lbl" x="904.50" y="107.80" font-size="52">1</text>
<text class="lbl" x="943.52" y="107.80" font-size="52">0</text>
<text class="lbl" x="1611.82" y="35.80" font-size="52">8</text>
<text class="lbl" x="1611.40" y="107.80" font-size="52">9</text>
<text class="lbl" x="1725.40" y="292.80" font-size="52">7</text>
<text class="lbl" x="1721.20" y="358.70" font-size="52">1</text>
<text class="lbl" x="1759.40" y="358.70" font-size="52">2</text>
<text class="lbl" x="1722.00" y="819.70" font-size="52">1</text>
<text class="lbl" x="1759.00" y="819.70" font-size="52">1</text>
<text class="lbl" x="1722.72" y="1029.70" font-size="52">3</text>
<text class="lbl" x="1722.20" y="1101.00" font-size="52">6</text>
<text class="lbl" x="1424.50" y="1101.00" font-size="52">1</text>
<text class="lbl" x="1386.50" y="1171.00" font-size="52">1</text>
<text class="lbl" x="1425.92" y="1171.00" font-size="52">3</text>
<text class="lbl" x="1386.50" y="1241.00" font-size="52">1</text>
<text class="lbl" x="1424.36" y="1241.00" font-size="52">4</text>
<text class="lbl" x="1072.42" y="1029.30" font-size="52">5</text>
<text class="lbl" x="54.76" y="538.80" font-size="52">4</text>
<text class="lbl" x="215.40" y="1105.00" font-size="52">6</text>
<text class="lbl" x="216.40" y="1241.00" font-size="52">2</text>
<text class="lbl" x="972" y="1260.20" font-size="38" textLength="184" lengthAdjust="spacingAndGlyphs">SGR.10401</text>
</g>
</svg>
</body></html>
